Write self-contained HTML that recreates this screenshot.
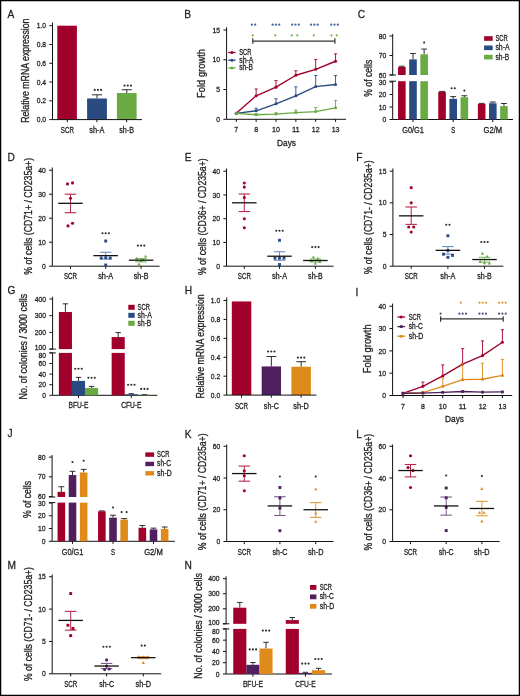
<!DOCTYPE html>
<html><head><meta charset="utf-8"><style>
html,body{margin:0;padding:0;background:#fff;}
body{width:520px;height:696px;overflow:hidden;}
svg{display:block;font-family:"Liberation Sans",sans-serif;}
</style></head><body>
<div style="filter:blur(0.3px)"><svg width="520" height="696" viewBox="0 0 520 696"><g>
<rect x="0" y="0" width="520" height="696" fill="#fff"/>
<rect x="0.6" y="0.6" width="518.8" height="694.8" fill="none" stroke="#000" stroke-width="1.3"/>
<text transform="translate(7.60,17.90) scale(0.88,1)" font-size="11.6" text-anchor="start" fill="#1e1e1e" stroke="#1e1e1e" stroke-width="0.28">A</text>
<line x1="52.50" y1="22.50" x2="52.50" y2="119.60" stroke="#111111" stroke-width="1.0" />
<line x1="49.30" y1="119.60" x2="52.50" y2="119.60" stroke="#111111" stroke-width="1.0" />
<text transform="translate(46.00,122.20)" font-size="7.6" text-anchor="end" fill="#1e1e1e" stroke="#1e1e1e" stroke-width="0.28" textLength="9.33" lengthAdjust="spacingAndGlyphs">0.0</text>
<line x1="49.30" y1="100.82" x2="52.50" y2="100.82" stroke="#111111" stroke-width="1.0" />
<text transform="translate(46.00,103.42)" font-size="7.6" text-anchor="end" fill="#1e1e1e" stroke="#1e1e1e" stroke-width="0.28" textLength="9.33" lengthAdjust="spacingAndGlyphs">0.2</text>
<line x1="49.30" y1="82.04" x2="52.50" y2="82.04" stroke="#111111" stroke-width="1.0" />
<text transform="translate(46.00,84.64)" font-size="7.6" text-anchor="end" fill="#1e1e1e" stroke="#1e1e1e" stroke-width="0.28" textLength="9.33" lengthAdjust="spacingAndGlyphs">0.4</text>
<line x1="49.30" y1="63.26" x2="52.50" y2="63.26" stroke="#111111" stroke-width="1.0" />
<text transform="translate(46.00,65.86)" font-size="7.6" text-anchor="end" fill="#1e1e1e" stroke="#1e1e1e" stroke-width="0.28" textLength="9.33" lengthAdjust="spacingAndGlyphs">0.6</text>
<line x1="49.30" y1="44.48" x2="52.50" y2="44.48" stroke="#111111" stroke-width="1.0" />
<text transform="translate(46.00,47.08)" font-size="7.6" text-anchor="end" fill="#1e1e1e" stroke="#1e1e1e" stroke-width="0.28" textLength="9.33" lengthAdjust="spacingAndGlyphs">0.8</text>
<line x1="49.30" y1="25.70" x2="52.50" y2="25.70" stroke="#111111" stroke-width="1.0" />
<text transform="translate(46.00,28.30)" font-size="7.6" text-anchor="end" fill="#1e1e1e" stroke="#1e1e1e" stroke-width="0.28" textLength="9.33" lengthAdjust="spacingAndGlyphs">1.0</text>
<rect x="57.30" y="25.70" width="19.60" height="93.90" fill="#a1002b"/>
<line x1="97.00" y1="94.81" x2="97.00" y2="98.47" stroke="#2e2e2e" stroke-width="1.0" />
<line x1="91.90" y1="94.81" x2="102.10" y2="94.81" stroke="#2e2e2e" stroke-width="1.0" />
<rect x="87.10" y="98.47" width="19.80" height="21.13" fill="#2a4a82"/>
<line x1="126.75" y1="89.74" x2="126.75" y2="93.03" stroke="#2e2e2e" stroke-width="1.0" />
<line x1="121.65" y1="89.74" x2="131.85" y2="89.74" stroke="#2e2e2e" stroke-width="1.0" />
<rect x="116.90" y="93.03" width="19.70" height="26.57" fill="#69aa42"/>
<circle cx="94.70" cy="89.90" r="1.05" fill="#2a2a2a"/>
<circle cx="97.90" cy="89.90" r="1.05" fill="#2a2a2a"/>
<circle cx="101.10" cy="89.90" r="1.05" fill="#2a2a2a"/>
<circle cx="124.60" cy="85.60" r="1.05" fill="#2a2a2a"/>
<circle cx="127.80" cy="85.60" r="1.05" fill="#2a2a2a"/>
<circle cx="131.00" cy="85.60" r="1.05" fill="#2a2a2a"/>
<line x1="52.50" y1="119.60" x2="142.00" y2="119.60" stroke="#111111" stroke-width="1.0" />
<line x1="67.30" y1="119.60" x2="67.30" y2="122.20" stroke="#111111" stroke-width="1.0" />
<text transform="translate(67.30,132.80)" font-size="8.4" text-anchor="middle" fill="#1e1e1e" stroke="#1e1e1e" stroke-width="0.28" textLength="13.09" lengthAdjust="spacingAndGlyphs">SCR</text>
<line x1="96.90" y1="119.60" x2="96.90" y2="122.20" stroke="#111111" stroke-width="1.0" />
<text transform="translate(96.90,132.80)" font-size="8.4" text-anchor="middle" fill="#1e1e1e" stroke="#1e1e1e" stroke-width="0.28" textLength="15.15" lengthAdjust="spacingAndGlyphs">sh-A</text>
<line x1="126.60" y1="119.60" x2="126.60" y2="122.20" stroke="#111111" stroke-width="1.0" />
<text transform="translate(126.60,132.80)" font-size="8.4" text-anchor="middle" fill="#1e1e1e" stroke="#1e1e1e" stroke-width="0.28" textLength="14.58" lengthAdjust="spacingAndGlyphs">sh-B</text>
<text transform="translate(29.04,70.70) rotate(-90)" font-size="10.0" text-anchor="middle" fill="#1e1e1e" stroke="#1e1e1e" stroke-width="0.3" textLength="104.33" lengthAdjust="spacingAndGlyphs">Relative mRNA expression</text>
<text transform="translate(184.30,17.90) scale(0.88,1)" font-size="11.6" text-anchor="start" fill="#1e1e1e" stroke="#1e1e1e" stroke-width="0.28">B</text>
<line x1="226.60" y1="27.30" x2="226.60" y2="119.30" stroke="#111111" stroke-width="1.0" />
<line x1="223.40" y1="119.30" x2="226.60" y2="119.30" stroke="#111111" stroke-width="1.0" />
<text transform="translate(220.10,121.90)" font-size="7.6" text-anchor="end" fill="#1e1e1e" stroke="#1e1e1e" stroke-width="0.28" textLength="3.77" lengthAdjust="spacingAndGlyphs">0</text>
<line x1="223.40" y1="89.53" x2="226.60" y2="89.53" stroke="#111111" stroke-width="1.0" />
<text transform="translate(220.10,92.13)" font-size="7.6" text-anchor="end" fill="#1e1e1e" stroke="#1e1e1e" stroke-width="0.28" textLength="3.77" lengthAdjust="spacingAndGlyphs">5</text>
<line x1="223.40" y1="59.77" x2="226.60" y2="59.77" stroke="#111111" stroke-width="1.0" />
<text transform="translate(220.10,62.37)" font-size="7.6" text-anchor="end" fill="#1e1e1e" stroke="#1e1e1e" stroke-width="0.28" textLength="7.54" lengthAdjust="spacingAndGlyphs">10</text>
<line x1="223.40" y1="30.00" x2="226.60" y2="30.00" stroke="#111111" stroke-width="1.0" />
<text transform="translate(220.10,32.60)" font-size="7.6" text-anchor="end" fill="#1e1e1e" stroke="#1e1e1e" stroke-width="0.28" textLength="7.54" lengthAdjust="spacingAndGlyphs">15</text>
<line x1="226.60" y1="119.30" x2="346.00" y2="119.30" stroke="#111111" stroke-width="1.0" />
<line x1="236.30" y1="119.30" x2="236.30" y2="121.90" stroke="#111111" stroke-width="1.0" />
<text transform="translate(236.30,132.00)" font-size="7.8999999999999995" text-anchor="middle" fill="#1e1e1e" stroke="#1e1e1e" stroke-width="0.28" textLength="3.90" lengthAdjust="spacingAndGlyphs">7</text>
<line x1="256.15" y1="119.30" x2="256.15" y2="121.90" stroke="#111111" stroke-width="1.0" />
<text transform="translate(256.15,132.00)" font-size="7.8999999999999995" text-anchor="middle" fill="#1e1e1e" stroke="#1e1e1e" stroke-width="0.28" textLength="3.90" lengthAdjust="spacingAndGlyphs">8</text>
<line x1="276.00" y1="119.30" x2="276.00" y2="121.90" stroke="#111111" stroke-width="1.0" />
<text transform="translate(276.00,132.00)" font-size="7.8999999999999995" text-anchor="middle" fill="#1e1e1e" stroke="#1e1e1e" stroke-width="0.28" textLength="7.80" lengthAdjust="spacingAndGlyphs">10</text>
<line x1="295.85" y1="119.30" x2="295.85" y2="121.90" stroke="#111111" stroke-width="1.0" />
<text transform="translate(295.85,132.00)" font-size="7.8999999999999995" text-anchor="middle" fill="#1e1e1e" stroke="#1e1e1e" stroke-width="0.28" textLength="7.80" lengthAdjust="spacingAndGlyphs">11</text>
<line x1="315.70" y1="119.30" x2="315.70" y2="121.90" stroke="#111111" stroke-width="1.0" />
<text transform="translate(315.70,132.00)" font-size="7.8999999999999995" text-anchor="middle" fill="#1e1e1e" stroke="#1e1e1e" stroke-width="0.28" textLength="7.80" lengthAdjust="spacingAndGlyphs">12</text>
<line x1="335.55" y1="119.30" x2="335.55" y2="121.90" stroke="#111111" stroke-width="1.0" />
<text transform="translate(335.55,132.00)" font-size="7.8999999999999995" text-anchor="middle" fill="#1e1e1e" stroke="#1e1e1e" stroke-width="0.28" textLength="7.80" lengthAdjust="spacingAndGlyphs">13</text>
<text transform="translate(286.50,145.60)" font-size="9.0" text-anchor="middle" fill="#1e1e1e" stroke="#1e1e1e" stroke-width="0.28" textLength="18.97" lengthAdjust="spacingAndGlyphs">Days</text>
<line x1="256.15" y1="88.94" x2="256.15" y2="95.78" stroke="#a1002b" stroke-width="0.9" />
<line x1="254.55" y1="88.94" x2="257.75" y2="88.94" stroke="#a1002b" stroke-width="0.9" />
<line x1="276.00" y1="80.60" x2="276.00" y2="87.15" stroke="#a1002b" stroke-width="0.9" />
<line x1="274.40" y1="80.60" x2="277.60" y2="80.60" stroke="#a1002b" stroke-width="0.9" />
<line x1="295.85" y1="70.78" x2="295.85" y2="75.25" stroke="#a1002b" stroke-width="0.9" />
<line x1="294.25" y1="70.78" x2="297.45" y2="70.78" stroke="#a1002b" stroke-width="0.9" />
<line x1="315.70" y1="59.47" x2="315.70" y2="69.29" stroke="#a1002b" stroke-width="0.9" />
<line x1="314.10" y1="59.47" x2="317.30" y2="59.47" stroke="#a1002b" stroke-width="0.9" />
<line x1="335.55" y1="53.81" x2="335.55" y2="61.25" stroke="#a1002b" stroke-width="0.9" />
<line x1="333.95" y1="53.81" x2="337.15" y2="53.81" stroke="#a1002b" stroke-width="0.9" />
<polyline points="236.30,113.35 256.15,95.78 276.00,87.15 295.85,75.25 315.70,69.29 335.55,61.25" fill="none" stroke="#a1002b" stroke-width="1.35" stroke-linejoin="round"/>
<circle cx="236.30" cy="113.35" r="1.55" fill="#a1002b"/>
<circle cx="256.15" cy="95.78" r="1.55" fill="#a1002b"/>
<circle cx="276.00" cy="87.15" r="1.55" fill="#a1002b"/>
<circle cx="295.85" cy="75.25" r="1.55" fill="#a1002b"/>
<circle cx="315.70" cy="69.29" r="1.55" fill="#a1002b"/>
<circle cx="335.55" cy="61.25" r="1.55" fill="#a1002b"/>
<line x1="256.15" y1="108.29" x2="256.15" y2="110.79" stroke="#2a4a82" stroke-width="0.9" />
<line x1="254.55" y1="108.29" x2="257.75" y2="108.29" stroke="#2a4a82" stroke-width="0.9" />
<line x1="276.00" y1="98.76" x2="276.00" y2="103.82" stroke="#2a4a82" stroke-width="0.9" />
<line x1="274.40" y1="98.76" x2="277.60" y2="98.76" stroke="#2a4a82" stroke-width="0.9" />
<line x1="295.85" y1="86.85" x2="295.85" y2="95.78" stroke="#2a4a82" stroke-width="0.9" />
<line x1="294.25" y1="86.85" x2="297.45" y2="86.85" stroke="#2a4a82" stroke-width="0.9" />
<line x1="315.70" y1="75.54" x2="315.70" y2="86.56" stroke="#2a4a82" stroke-width="0.9" />
<line x1="314.10" y1="75.54" x2="317.30" y2="75.54" stroke="#2a4a82" stroke-width="0.9" />
<line x1="335.55" y1="75.54" x2="335.55" y2="84.47" stroke="#2a4a82" stroke-width="0.9" />
<line x1="333.95" y1="75.54" x2="337.15" y2="75.54" stroke="#2a4a82" stroke-width="0.9" />
<polyline points="236.30,113.35 256.15,110.79 276.00,103.82 295.85,95.78 315.70,86.56 335.55,84.47" fill="none" stroke="#2a4a82" stroke-width="1.35" stroke-linejoin="round"/>
<circle cx="236.30" cy="113.35" r="1.55" fill="#2a4a82"/>
<circle cx="256.15" cy="110.79" r="1.55" fill="#2a4a82"/>
<circle cx="276.00" cy="103.82" r="1.55" fill="#2a4a82"/>
<circle cx="295.85" cy="95.78" r="1.55" fill="#2a4a82"/>
<circle cx="315.70" cy="86.56" r="1.55" fill="#2a4a82"/>
<circle cx="335.55" cy="84.47" r="1.55" fill="#2a4a82"/>
<line x1="256.15" y1="113.64" x2="256.15" y2="114.78" stroke="#69aa42" stroke-width="0.9" />
<line x1="254.55" y1="113.64" x2="257.75" y2="113.64" stroke="#69aa42" stroke-width="0.9" />
<line x1="276.00" y1="112.75" x2="276.00" y2="114.06" stroke="#69aa42" stroke-width="0.9" />
<line x1="274.40" y1="112.75" x2="277.60" y2="112.75" stroke="#69aa42" stroke-width="0.9" />
<line x1="295.85" y1="110.07" x2="295.85" y2="112.57" stroke="#69aa42" stroke-width="0.9" />
<line x1="294.25" y1="110.07" x2="297.45" y2="110.07" stroke="#69aa42" stroke-width="0.9" />
<line x1="315.70" y1="107.57" x2="315.70" y2="111.56" stroke="#69aa42" stroke-width="0.9" />
<line x1="314.10" y1="107.57" x2="317.30" y2="107.57" stroke="#69aa42" stroke-width="0.9" />
<line x1="335.55" y1="100.55" x2="335.55" y2="107.81" stroke="#69aa42" stroke-width="0.9" />
<line x1="333.95" y1="100.55" x2="337.15" y2="100.55" stroke="#69aa42" stroke-width="0.9" />
<polyline points="236.30,113.35 256.15,114.78 276.00,114.06 295.85,112.57 315.70,111.56 335.55,107.81" fill="none" stroke="#69aa42" stroke-width="1.35" stroke-linejoin="round"/>
<circle cx="236.30" cy="113.35" r="1.55" fill="#69aa42"/>
<circle cx="256.15" cy="114.78" r="1.55" fill="#69aa42"/>
<circle cx="276.00" cy="114.06" r="1.55" fill="#69aa42"/>
<circle cx="295.85" cy="112.57" r="1.55" fill="#69aa42"/>
<circle cx="315.70" cy="111.56" r="1.55" fill="#69aa42"/>
<circle cx="335.55" cy="107.81" r="1.55" fill="#69aa42"/>
<text transform="translate(205.43,73.46) rotate(-90)" font-size="10.0" text-anchor="middle" fill="#1e1e1e" stroke="#1e1e1e" stroke-width="0.3" textLength="48.89" lengthAdjust="spacingAndGlyphs">Fold growth</text>
<line x1="228.20" y1="52.50" x2="235.60" y2="52.50" stroke="#a1002b" stroke-width="1.3" />
<circle cx="231.90" cy="52.50" r="1.5" fill="#a1002b"/>
<text transform="translate(239.20,55.00)" font-size="8.3" text-anchor="start" fill="#1e1e1e" stroke="#1e1e1e" stroke-width="0.28" textLength="12.28" lengthAdjust="spacingAndGlyphs">SCR</text>
<line x1="228.20" y1="60.20" x2="235.60" y2="60.20" stroke="#2a4a82" stroke-width="1.3" />
<circle cx="231.90" cy="60.20" r="1.5" fill="#2a4a82"/>
<text transform="translate(239.20,62.70)" font-size="8.3" text-anchor="start" fill="#1e1e1e" stroke="#1e1e1e" stroke-width="0.28" textLength="14.21" lengthAdjust="spacingAndGlyphs">sh-A</text>
<line x1="228.20" y1="67.90" x2="235.60" y2="67.90" stroke="#69aa42" stroke-width="1.3" />
<circle cx="231.90" cy="67.90" r="1.5" fill="#69aa42"/>
<text transform="translate(239.20,70.40)" font-size="8.3" text-anchor="start" fill="#1e1e1e" stroke="#1e1e1e" stroke-width="0.28" textLength="13.68" lengthAdjust="spacingAndGlyphs">sh-B</text>
<line x1="252.80" y1="41.10" x2="334.90" y2="41.10" stroke="#333333" stroke-width="1.2" />
<line x1="252.80" y1="38.30" x2="252.80" y2="43.70" stroke="#333333" stroke-width="1.2" />
<line x1="334.90" y1="38.30" x2="334.90" y2="43.70" stroke="#333333" stroke-width="1.2" />
<circle cx="251.85" cy="24.70" r="1.15" fill="#4a66a0"/>
<circle cx="255.15" cy="24.70" r="1.15" fill="#4a66a0"/>
<circle cx="272.60" cy="24.70" r="1.15" fill="#4a66a0"/>
<circle cx="275.90" cy="24.70" r="1.15" fill="#4a66a0"/>
<circle cx="279.20" cy="24.70" r="1.15" fill="#4a66a0"/>
<circle cx="292.20" cy="24.70" r="1.15" fill="#4a66a0"/>
<circle cx="295.50" cy="24.70" r="1.15" fill="#4a66a0"/>
<circle cx="298.80" cy="24.70" r="1.15" fill="#4a66a0"/>
<circle cx="311.10" cy="24.70" r="1.15" fill="#4a66a0"/>
<circle cx="314.40" cy="24.70" r="1.15" fill="#4a66a0"/>
<circle cx="317.70" cy="24.70" r="1.15" fill="#4a66a0"/>
<circle cx="331.20" cy="24.70" r="1.15" fill="#4a66a0"/>
<circle cx="334.50" cy="24.70" r="1.15" fill="#4a66a0"/>
<circle cx="337.80" cy="24.70" r="1.15" fill="#4a66a0"/>
<circle cx="252.70" cy="35.40" r="1.1" fill="#72b34e"/>
<circle cx="275.20" cy="35.40" r="1.1" fill="#72b34e"/>
<circle cx="291.70" cy="35.40" r="1.1" fill="#72b34e"/>
<circle cx="297.30" cy="35.40" r="1.1" fill="#72b34e"/>
<circle cx="313.80" cy="35.40" r="1.1" fill="#72b34e"/>
<circle cx="331.50" cy="35.40" r="1.1" fill="#72b34e"/>
<circle cx="336.70" cy="35.40" r="1.1" fill="#72b34e"/>
<text transform="translate(357.80,17.90) scale(0.88,1)" font-size="11.6" text-anchor="start" fill="#1e1e1e" stroke="#1e1e1e" stroke-width="0.28">C</text>
<line x1="392.70" y1="34.00" x2="392.70" y2="75.00" stroke="#111111" stroke-width="1.0" />
<line x1="389.50" y1="75.00" x2="395.90" y2="75.00" stroke="#111111" stroke-width="1.0" />
<line x1="392.70" y1="81.20" x2="392.70" y2="119.50" stroke="#111111" stroke-width="1.0" />
<line x1="389.50" y1="81.20" x2="395.90" y2="81.20" stroke="#111111" stroke-width="1.0" />
<line x1="389.50" y1="75.00" x2="392.70" y2="75.00" stroke="#111111" stroke-width="1.0" />
<text transform="translate(386.20,77.60)" font-size="7.6" text-anchor="end" fill="#1e1e1e" stroke="#1e1e1e" stroke-width="0.28" textLength="7.54" lengthAdjust="spacingAndGlyphs">60</text>
<line x1="389.50" y1="55.50" x2="392.70" y2="55.50" stroke="#111111" stroke-width="1.0" />
<text transform="translate(386.20,58.10)" font-size="7.6" text-anchor="end" fill="#1e1e1e" stroke="#1e1e1e" stroke-width="0.28" textLength="7.54" lengthAdjust="spacingAndGlyphs">70</text>
<line x1="389.50" y1="36.00" x2="392.70" y2="36.00" stroke="#111111" stroke-width="1.0" />
<text transform="translate(386.20,38.60)" font-size="7.6" text-anchor="end" fill="#1e1e1e" stroke="#1e1e1e" stroke-width="0.28" textLength="7.54" lengthAdjust="spacingAndGlyphs">80</text>
<line x1="389.50" y1="119.50" x2="392.70" y2="119.50" stroke="#111111" stroke-width="1.0" />
<text transform="translate(386.20,122.10)" font-size="7.6" text-anchor="end" fill="#1e1e1e" stroke="#1e1e1e" stroke-width="0.28" textLength="3.77" lengthAdjust="spacingAndGlyphs">0</text>
<line x1="389.50" y1="107.00" x2="392.70" y2="107.00" stroke="#111111" stroke-width="1.0" />
<text transform="translate(386.20,109.60)" font-size="7.6" text-anchor="end" fill="#1e1e1e" stroke="#1e1e1e" stroke-width="0.28" textLength="7.54" lengthAdjust="spacingAndGlyphs">10</text>
<line x1="389.50" y1="94.50" x2="392.70" y2="94.50" stroke="#111111" stroke-width="1.0" />
<text transform="translate(386.20,97.10)" font-size="7.6" text-anchor="end" fill="#1e1e1e" stroke="#1e1e1e" stroke-width="0.28" textLength="7.54" lengthAdjust="spacingAndGlyphs">20</text>
<line x1="389.50" y1="82.00" x2="392.70" y2="82.00" stroke="#111111" stroke-width="1.0" />
<text transform="translate(386.20,84.60)" font-size="7.6" text-anchor="end" fill="#1e1e1e" stroke="#1e1e1e" stroke-width="0.28" textLength="7.54" lengthAdjust="spacingAndGlyphs">30</text>
<line x1="392.70" y1="119.50" x2="513.00" y2="119.50" stroke="#111111" stroke-width="1.0" />
<line x1="413.00" y1="119.50" x2="413.00" y2="122.10" stroke="#111111" stroke-width="1.0" />
<text transform="translate(413.00,132.70)" font-size="8.4" text-anchor="middle" fill="#1e1e1e" stroke="#1e1e1e" stroke-width="0.28" textLength="21.55" lengthAdjust="spacingAndGlyphs">G0/G1</text>
<line x1="401.85" y1="66.22" x2="401.85" y2="67.01" stroke="#2e2e2e" stroke-width="1.0" />
<line x1="398.95" y1="66.22" x2="404.75" y2="66.22" stroke="#2e2e2e" stroke-width="1.0" />
<rect x="398.05" y="67.01" width="7.60" height="7.99" fill="#a1002b"/>
<rect x="398.05" y="81.20" width="7.60" height="38.30" fill="#a1002b"/>
<line x1="413.00" y1="53.55" x2="413.00" y2="59.40" stroke="#2e2e2e" stroke-width="1.0" />
<line x1="410.10" y1="53.55" x2="415.90" y2="53.55" stroke="#2e2e2e" stroke-width="1.0" />
<rect x="409.20" y="59.40" width="7.60" height="15.60" fill="#2a4a82"/>
<rect x="409.20" y="81.20" width="7.60" height="38.30" fill="#2a4a82"/>
<line x1="424.15" y1="49.07" x2="424.15" y2="54.33" stroke="#2e2e2e" stroke-width="1.0" />
<line x1="421.25" y1="49.07" x2="427.05" y2="49.07" stroke="#2e2e2e" stroke-width="1.0" />
<rect x="420.35" y="54.33" width="7.60" height="20.67" fill="#69aa42"/>
<rect x="420.35" y="81.20" width="7.60" height="38.30" fill="#69aa42"/>
<circle cx="424.15" cy="42.60" r="1.05" fill="#2a2a2a"/>
<line x1="453.20" y1="119.50" x2="453.20" y2="122.10" stroke="#111111" stroke-width="1.0" />
<text transform="translate(453.20,132.70)" font-size="8.4" text-anchor="middle" fill="#1e1e1e" stroke="#1e1e1e" stroke-width="0.28" textLength="3.99" lengthAdjust="spacingAndGlyphs">S</text>
<line x1="442.05" y1="91.38" x2="442.05" y2="91.88" stroke="#2e2e2e" stroke-width="1.0" />
<line x1="439.15" y1="91.38" x2="444.95" y2="91.38" stroke="#2e2e2e" stroke-width="1.0" />
<rect x="438.25" y="91.88" width="7.60" height="27.62" fill="#a1002b"/>
<line x1="453.20" y1="96.62" x2="453.20" y2="98.88" stroke="#2e2e2e" stroke-width="1.0" />
<line x1="450.30" y1="96.62" x2="456.10" y2="96.62" stroke="#2e2e2e" stroke-width="1.0" />
<rect x="449.40" y="98.88" width="7.60" height="20.62" fill="#2a4a82"/>
<circle cx="451.60" cy="88.20" r="1.05" fill="#2a2a2a"/>
<circle cx="454.80" cy="88.20" r="1.05" fill="#2a2a2a"/>
<line x1="464.35" y1="95.75" x2="464.35" y2="97.25" stroke="#2e2e2e" stroke-width="1.0" />
<line x1="461.45" y1="95.75" x2="467.25" y2="95.75" stroke="#2e2e2e" stroke-width="1.0" />
<rect x="460.55" y="97.25" width="7.60" height="22.25" fill="#69aa42"/>
<circle cx="464.35" cy="90.60" r="1.05" fill="#2a2a2a"/>
<line x1="492.80" y1="119.50" x2="492.80" y2="122.10" stroke="#111111" stroke-width="1.0" />
<text transform="translate(492.80,132.70)" font-size="8.4" text-anchor="middle" fill="#1e1e1e" stroke="#1e1e1e" stroke-width="0.28" textLength="18.68" lengthAdjust="spacingAndGlyphs">G2/M</text>
<line x1="481.65" y1="103.38" x2="481.65" y2="103.88" stroke="#2e2e2e" stroke-width="1.0" />
<line x1="478.75" y1="103.38" x2="484.55" y2="103.38" stroke="#2e2e2e" stroke-width="1.0" />
<rect x="477.85" y="103.88" width="7.60" height="15.62" fill="#a1002b"/>
<line x1="492.80" y1="102.00" x2="492.80" y2="103.25" stroke="#2e2e2e" stroke-width="1.0" />
<line x1="489.90" y1="102.00" x2="495.70" y2="102.00" stroke="#2e2e2e" stroke-width="1.0" />
<rect x="489.00" y="103.25" width="7.60" height="16.25" fill="#2a4a82"/>
<line x1="503.95" y1="103.50" x2="503.95" y2="106.12" stroke="#2e2e2e" stroke-width="1.0" />
<line x1="501.05" y1="103.50" x2="506.85" y2="103.50" stroke="#2e2e2e" stroke-width="1.0" />
<rect x="500.15" y="106.12" width="7.60" height="13.38" fill="#69aa42"/>
<text transform="translate(372.41,78.26) rotate(-90)" font-size="10.0" text-anchor="middle" fill="#1e1e1e" stroke="#1e1e1e" stroke-width="0.3" textLength="36.89" lengthAdjust="spacingAndGlyphs">% of cells</text>
<rect x="484.10" y="36.20" width="8.60" height="4.60" fill="#a1002b"/>
<text transform="translate(495.40,41.10)" font-size="8.3" text-anchor="start" fill="#1e1e1e" stroke="#1e1e1e" stroke-width="0.28" textLength="12.28" lengthAdjust="spacingAndGlyphs">SCR</text>
<rect x="484.10" y="45.50" width="8.60" height="4.60" fill="#2a4a82"/>
<text transform="translate(495.40,50.40)" font-size="8.3" text-anchor="start" fill="#1e1e1e" stroke="#1e1e1e" stroke-width="0.28" textLength="14.21" lengthAdjust="spacingAndGlyphs">sh-A</text>
<rect x="484.10" y="54.80" width="8.60" height="4.60" fill="#69aa42"/>
<text transform="translate(495.40,59.70)" font-size="8.3" text-anchor="start" fill="#1e1e1e" stroke="#1e1e1e" stroke-width="0.28" textLength="13.68" lengthAdjust="spacingAndGlyphs">sh-B</text>
<text transform="translate(7.60,161.30) scale(0.88,1)" font-size="11.6" text-anchor="start" fill="#1e1e1e" stroke="#1e1e1e" stroke-width="0.28">D</text>
<line x1="52.30" y1="167.50" x2="52.30" y2="266.20" stroke="#111111" stroke-width="1.0" />
<line x1="49.10" y1="266.20" x2="52.30" y2="266.20" stroke="#111111" stroke-width="1.0" />
<text transform="translate(45.80,268.80)" font-size="7.6" text-anchor="end" fill="#1e1e1e" stroke="#1e1e1e" stroke-width="0.28" textLength="3.77" lengthAdjust="spacingAndGlyphs">0</text>
<line x1="49.10" y1="242.20" x2="52.30" y2="242.20" stroke="#111111" stroke-width="1.0" />
<text transform="translate(45.80,244.80)" font-size="7.6" text-anchor="end" fill="#1e1e1e" stroke="#1e1e1e" stroke-width="0.28" textLength="7.54" lengthAdjust="spacingAndGlyphs">10</text>
<line x1="49.10" y1="218.20" x2="52.30" y2="218.20" stroke="#111111" stroke-width="1.0" />
<text transform="translate(45.80,220.80)" font-size="7.6" text-anchor="end" fill="#1e1e1e" stroke="#1e1e1e" stroke-width="0.28" textLength="7.54" lengthAdjust="spacingAndGlyphs">20</text>
<line x1="49.10" y1="194.20" x2="52.30" y2="194.20" stroke="#111111" stroke-width="1.0" />
<text transform="translate(45.80,196.80)" font-size="7.6" text-anchor="end" fill="#1e1e1e" stroke="#1e1e1e" stroke-width="0.28" textLength="7.54" lengthAdjust="spacingAndGlyphs">30</text>
<line x1="49.10" y1="170.20" x2="52.30" y2="170.20" stroke="#111111" stroke-width="1.0" />
<text transform="translate(45.80,172.80)" font-size="7.6" text-anchor="end" fill="#1e1e1e" stroke="#1e1e1e" stroke-width="0.28" textLength="7.54" lengthAdjust="spacingAndGlyphs">40</text>
<line x1="52.30" y1="266.20" x2="159.60" y2="266.20" stroke="#111111" stroke-width="1.0" />
<line x1="70.50" y1="266.20" x2="70.50" y2="268.80" stroke="#111111" stroke-width="1.0" />
<text transform="translate(70.50,279.00)" font-size="8.4" text-anchor="middle" fill="#1e1e1e" stroke="#1e1e1e" stroke-width="0.28" textLength="13.09" lengthAdjust="spacingAndGlyphs">SCR</text>
<line x1="105.70" y1="266.20" x2="105.70" y2="268.80" stroke="#111111" stroke-width="1.0" />
<text transform="translate(105.70,279.00)" font-size="8.4" text-anchor="middle" fill="#1e1e1e" stroke="#1e1e1e" stroke-width="0.28" textLength="15.15" lengthAdjust="spacingAndGlyphs">sh-A</text>
<line x1="141.10" y1="266.20" x2="141.10" y2="268.80" stroke="#111111" stroke-width="1.0" />
<text transform="translate(141.10,279.00)" font-size="8.4" text-anchor="middle" fill="#1e1e1e" stroke="#1e1e1e" stroke-width="0.28" textLength="14.58" lengthAdjust="spacingAndGlyphs">sh-B</text>
<line x1="70.50" y1="194.20" x2="70.50" y2="212.68" stroke="#b8274a" stroke-width="1.0" />
<line x1="64.75" y1="194.20" x2="76.25" y2="194.20" stroke="#b8274a" stroke-width="1.1" />
<line x1="64.75" y1="212.68" x2="76.25" y2="212.68" stroke="#b8274a" stroke-width="1.1" />
<circle cx="67.50" cy="183.88" r="1.55" fill="#a1002b"/>
<circle cx="72.50" cy="182.92" r="1.55" fill="#a1002b"/>
<circle cx="70.50" cy="198.28" r="1.55" fill="#a1002b"/>
<circle cx="68.00" cy="225.88" r="1.55" fill="#a1002b"/>
<circle cx="72.50" cy="223.24" r="1.55" fill="#a1002b"/>
<line x1="58.25" y1="203.32" x2="82.75" y2="203.32" stroke="#111" stroke-width="1.3" />
<line x1="105.70" y1="252.28" x2="105.70" y2="259.00" stroke="#6d8dbf" stroke-width="1.0" />
<line x1="99.95" y1="252.28" x2="111.45" y2="252.28" stroke="#6d8dbf" stroke-width="1.1" />
<line x1="99.95" y1="259.00" x2="111.45" y2="259.00" stroke="#6d8dbf" stroke-width="1.1" />
<rect x="104.25" y="239.55" width="2.9" height="2.9" fill="#2a4a82"/>
<rect x="99.75" y="256.59" width="2.9" height="2.9" fill="#2a4a82"/>
<rect x="108.75" y="256.59" width="2.9" height="2.9" fill="#2a4a82"/>
<rect x="104.25" y="256.35" width="2.9" height="2.9" fill="#2a4a82"/>
<rect x="104.25" y="263.55" width="2.9" height="2.9" fill="#2a4a82"/>
<line x1="93.45" y1="255.64" x2="117.95" y2="255.64" stroke="#111" stroke-width="1.3" />
<circle cx="102.50" cy="233.20" r="1.05" fill="#2a2a2a"/>
<circle cx="105.70" cy="233.20" r="1.05" fill="#2a2a2a"/>
<circle cx="108.90" cy="233.20" r="1.05" fill="#2a2a2a"/>
<line x1="141.10" y1="258.52" x2="141.10" y2="261.88" stroke="#7ec25a" stroke-width="1.0" />
<line x1="135.35" y1="258.52" x2="146.85" y2="258.52" stroke="#7ec25a" stroke-width="1.1" />
<line x1="135.35" y1="261.88" x2="146.85" y2="261.88" stroke="#7ec25a" stroke-width="1.1" />
<path d="M136.70,256.79L138.30,259.67L135.10,259.67Z" fill="#69aa42"/>
<path d="M145.60,254.63L147.20,257.51L144.00,257.51Z" fill="#69aa42"/>
<path d="M139.10,262.55L140.70,265.43L137.50,265.43Z" fill="#69aa42"/>
<path d="M143.10,258.23L144.70,261.11L141.50,261.11Z" fill="#69aa42"/>
<path d="M141.10,259.19L142.70,262.07L139.50,262.07Z" fill="#69aa42"/>
<line x1="128.85" y1="260.20" x2="153.35" y2="260.20" stroke="#111" stroke-width="1.3" />
<circle cx="137.90" cy="245.60" r="1.05" fill="#2a2a2a"/>
<circle cx="141.10" cy="245.60" r="1.05" fill="#2a2a2a"/>
<circle cx="144.30" cy="245.60" r="1.05" fill="#2a2a2a"/>
<text transform="translate(31.73,216.33) rotate(-90)" font-size="10.0" text-anchor="middle" fill="#1e1e1e" stroke="#1e1e1e" stroke-width="0.3" textLength="116.77" lengthAdjust="spacingAndGlyphs">% of cells (CD71+ / CD235a+)</text>
<text transform="translate(184.80,161.30) scale(0.88,1)" font-size="11.6" text-anchor="start" fill="#1e1e1e" stroke="#1e1e1e" stroke-width="0.28">E</text>
<line x1="226.50" y1="168.50" x2="226.50" y2="266.20" stroke="#111111" stroke-width="1.0" />
<line x1="223.30" y1="266.20" x2="226.50" y2="266.20" stroke="#111111" stroke-width="1.0" />
<text transform="translate(220.00,268.80)" font-size="7.6" text-anchor="end" fill="#1e1e1e" stroke="#1e1e1e" stroke-width="0.28" textLength="3.77" lengthAdjust="spacingAndGlyphs">0</text>
<line x1="223.30" y1="242.45" x2="226.50" y2="242.45" stroke="#111111" stroke-width="1.0" />
<text transform="translate(220.00,245.05)" font-size="7.6" text-anchor="end" fill="#1e1e1e" stroke="#1e1e1e" stroke-width="0.28" textLength="7.54" lengthAdjust="spacingAndGlyphs">10</text>
<line x1="223.30" y1="218.70" x2="226.50" y2="218.70" stroke="#111111" stroke-width="1.0" />
<text transform="translate(220.00,221.30)" font-size="7.6" text-anchor="end" fill="#1e1e1e" stroke="#1e1e1e" stroke-width="0.28" textLength="7.54" lengthAdjust="spacingAndGlyphs">20</text>
<line x1="223.30" y1="194.95" x2="226.50" y2="194.95" stroke="#111111" stroke-width="1.0" />
<text transform="translate(220.00,197.55)" font-size="7.6" text-anchor="end" fill="#1e1e1e" stroke="#1e1e1e" stroke-width="0.28" textLength="7.54" lengthAdjust="spacingAndGlyphs">30</text>
<line x1="223.30" y1="171.20" x2="226.50" y2="171.20" stroke="#111111" stroke-width="1.0" />
<text transform="translate(220.00,173.80)" font-size="7.6" text-anchor="end" fill="#1e1e1e" stroke="#1e1e1e" stroke-width="0.28" textLength="7.54" lengthAdjust="spacingAndGlyphs">40</text>
<line x1="226.50" y1="266.20" x2="333.60" y2="266.20" stroke="#111111" stroke-width="1.0" />
<line x1="244.30" y1="266.20" x2="244.30" y2="268.80" stroke="#111111" stroke-width="1.0" />
<text transform="translate(244.30,279.00)" font-size="8.4" text-anchor="middle" fill="#1e1e1e" stroke="#1e1e1e" stroke-width="0.28" textLength="13.09" lengthAdjust="spacingAndGlyphs">SCR</text>
<line x1="279.50" y1="266.20" x2="279.50" y2="268.80" stroke="#111111" stroke-width="1.0" />
<text transform="translate(279.50,279.00)" font-size="8.4" text-anchor="middle" fill="#1e1e1e" stroke="#1e1e1e" stroke-width="0.28" textLength="15.15" lengthAdjust="spacingAndGlyphs">sh-A</text>
<line x1="315.40" y1="266.20" x2="315.40" y2="268.80" stroke="#111111" stroke-width="1.0" />
<text transform="translate(315.40,279.00)" font-size="8.4" text-anchor="middle" fill="#1e1e1e" stroke="#1e1e1e" stroke-width="0.28" textLength="14.58" lengthAdjust="spacingAndGlyphs">sh-B</text>
<line x1="244.30" y1="194.00" x2="244.30" y2="211.57" stroke="#b8274a" stroke-width="1.0" />
<line x1="238.55" y1="194.00" x2="250.05" y2="194.00" stroke="#b8274a" stroke-width="1.1" />
<line x1="238.55" y1="211.57" x2="250.05" y2="211.57" stroke="#b8274a" stroke-width="1.1" />
<circle cx="244.30" cy="183.07" r="1.55" fill="#a1002b"/>
<circle cx="244.30" cy="187.11" r="1.55" fill="#a1002b"/>
<circle cx="244.30" cy="197.56" r="1.55" fill="#a1002b"/>
<circle cx="244.30" cy="218.70" r="1.55" fill="#a1002b"/>
<circle cx="244.30" cy="227.72" r="1.55" fill="#a1002b"/>
<line x1="232.05" y1="202.79" x2="256.55" y2="202.79" stroke="#111" stroke-width="1.3" />
<line x1="279.50" y1="251.71" x2="279.50" y2="260.26" stroke="#6d8dbf" stroke-width="1.0" />
<line x1="273.75" y1="251.71" x2="285.25" y2="251.71" stroke="#6d8dbf" stroke-width="1.1" />
<line x1="273.75" y1="260.26" x2="285.25" y2="260.26" stroke="#6d8dbf" stroke-width="1.1" />
<rect x="278.05" y="238.86" width="2.9" height="2.9" fill="#2a4a82"/>
<rect x="273.55" y="256.68" width="2.9" height="2.9" fill="#2a4a82"/>
<rect x="278.05" y="256.68" width="2.9" height="2.9" fill="#2a4a82"/>
<rect x="282.55" y="256.68" width="2.9" height="2.9" fill="#2a4a82"/>
<rect x="278.05" y="263.09" width="2.9" height="2.9" fill="#2a4a82"/>
<line x1="267.25" y1="256.22" x2="291.75" y2="256.22" stroke="#111" stroke-width="1.3" />
<circle cx="276.30" cy="230.80" r="1.05" fill="#2a2a2a"/>
<circle cx="279.50" cy="230.80" r="1.05" fill="#2a2a2a"/>
<circle cx="282.70" cy="230.80" r="1.05" fill="#2a2a2a"/>
<line x1="315.40" y1="259.07" x2="315.40" y2="261.93" stroke="#7ec25a" stroke-width="1.0" />
<line x1="309.65" y1="259.07" x2="321.15" y2="259.07" stroke="#7ec25a" stroke-width="1.1" />
<line x1="309.65" y1="261.93" x2="321.15" y2="261.93" stroke="#7ec25a" stroke-width="1.1" />
<path d="M313.40,255.45L315.00,258.33L311.80,258.33Z" fill="#69aa42"/>
<path d="M317.90,256.63L319.50,259.51L316.30,259.51Z" fill="#69aa42"/>
<path d="M311.40,259.01L313.00,261.89L309.80,261.89Z" fill="#69aa42"/>
<path d="M319.90,260.20L321.50,263.08L318.30,263.08Z" fill="#69aa42"/>
<path d="M315.40,261.62L317.00,264.50L313.80,264.50Z" fill="#69aa42"/>
<line x1="303.15" y1="260.50" x2="327.65" y2="260.50" stroke="#111" stroke-width="1.3" />
<circle cx="312.20" cy="247.10" r="1.05" fill="#2a2a2a"/>
<circle cx="315.40" cy="247.10" r="1.05" fill="#2a2a2a"/>
<circle cx="318.60" cy="247.10" r="1.05" fill="#2a2a2a"/>
<text transform="translate(206.13,216.73) rotate(-90)" font-size="10.0" text-anchor="middle" fill="#1e1e1e" stroke="#1e1e1e" stroke-width="0.3" textLength="116.77" lengthAdjust="spacingAndGlyphs">% of cells (CD36+ / CD235a+)</text>
<text transform="translate(356.30,161.30) scale(0.88,1)" font-size="11.6" text-anchor="start" fill="#1e1e1e" stroke="#1e1e1e" stroke-width="0.28">F</text>
<line x1="392.90" y1="168.50" x2="392.90" y2="266.20" stroke="#111111" stroke-width="1.0" />
<line x1="389.70" y1="266.20" x2="392.90" y2="266.20" stroke="#111111" stroke-width="1.0" />
<text transform="translate(386.40,268.80)" font-size="7.6" text-anchor="end" fill="#1e1e1e" stroke="#1e1e1e" stroke-width="0.28" textLength="3.77" lengthAdjust="spacingAndGlyphs">0</text>
<line x1="389.70" y1="234.53" x2="392.90" y2="234.53" stroke="#111111" stroke-width="1.0" />
<text transform="translate(386.40,237.13)" font-size="7.6" text-anchor="end" fill="#1e1e1e" stroke="#1e1e1e" stroke-width="0.28" textLength="3.77" lengthAdjust="spacingAndGlyphs">5</text>
<line x1="389.70" y1="202.87" x2="392.90" y2="202.87" stroke="#111111" stroke-width="1.0" />
<text transform="translate(386.40,205.47)" font-size="7.6" text-anchor="end" fill="#1e1e1e" stroke="#1e1e1e" stroke-width="0.28" textLength="7.54" lengthAdjust="spacingAndGlyphs">10</text>
<line x1="389.70" y1="171.20" x2="392.90" y2="171.20" stroke="#111111" stroke-width="1.0" />
<text transform="translate(386.40,173.80)" font-size="7.6" text-anchor="end" fill="#1e1e1e" stroke="#1e1e1e" stroke-width="0.28" textLength="7.54" lengthAdjust="spacingAndGlyphs">15</text>
<line x1="392.90" y1="266.20" x2="503.30" y2="266.20" stroke="#111111" stroke-width="1.0" />
<line x1="411.20" y1="266.20" x2="411.20" y2="268.80" stroke="#111111" stroke-width="1.0" />
<text transform="translate(411.20,279.00)" font-size="8.4" text-anchor="middle" fill="#1e1e1e" stroke="#1e1e1e" stroke-width="0.28" textLength="13.09" lengthAdjust="spacingAndGlyphs">SCR</text>
<line x1="447.90" y1="266.20" x2="447.90" y2="268.80" stroke="#111111" stroke-width="1.0" />
<text transform="translate(447.90,279.00)" font-size="8.4" text-anchor="middle" fill="#1e1e1e" stroke="#1e1e1e" stroke-width="0.28" textLength="15.15" lengthAdjust="spacingAndGlyphs">sh-A</text>
<line x1="484.50" y1="266.20" x2="484.50" y2="268.80" stroke="#111111" stroke-width="1.0" />
<text transform="translate(484.50,279.00)" font-size="8.4" text-anchor="middle" fill="#1e1e1e" stroke="#1e1e1e" stroke-width="0.28" textLength="14.58" lengthAdjust="spacingAndGlyphs">sh-B</text>
<line x1="411.20" y1="206.98" x2="411.20" y2="224.40" stroke="#b8274a" stroke-width="1.0" />
<line x1="405.45" y1="206.98" x2="416.95" y2="206.98" stroke="#b8274a" stroke-width="1.1" />
<line x1="405.45" y1="224.40" x2="416.95" y2="224.40" stroke="#b8274a" stroke-width="1.1" />
<circle cx="411.20" cy="187.67" r="1.55" fill="#a1002b"/>
<circle cx="411.20" cy="202.87" r="1.55" fill="#a1002b"/>
<circle cx="408.70" cy="226.93" r="1.55" fill="#a1002b"/>
<circle cx="413.70" cy="226.93" r="1.55" fill="#a1002b"/>
<circle cx="411.20" cy="232.00" r="1.55" fill="#a1002b"/>
<line x1="398.95" y1="215.85" x2="423.45" y2="215.85" stroke="#111" stroke-width="1.3" />
<line x1="447.90" y1="246.57" x2="447.90" y2="254.17" stroke="#6d8dbf" stroke-width="1.0" />
<line x1="442.15" y1="246.57" x2="453.65" y2="246.57" stroke="#6d8dbf" stroke-width="1.1" />
<line x1="442.15" y1="254.17" x2="453.65" y2="254.17" stroke="#6d8dbf" stroke-width="1.1" />
<rect x="446.45" y="234.35" width="2.9" height="2.9" fill="#2a4a82"/>
<rect x="442.05" y="252.72" width="2.9" height="2.9" fill="#2a4a82"/>
<rect x="451.05" y="253.98" width="2.9" height="2.9" fill="#2a4a82"/>
<rect x="446.45" y="255.88" width="2.9" height="2.9" fill="#2a4a82"/>
<rect x="446.45" y="248.92" width="2.9" height="2.9" fill="#2a4a82"/>
<line x1="435.65" y1="250.37" x2="460.15" y2="250.37" stroke="#111" stroke-width="1.3" />
<circle cx="446.30" cy="224.80" r="1.05" fill="#2a2a2a"/>
<circle cx="449.50" cy="224.80" r="1.05" fill="#2a2a2a"/>
<line x1="484.50" y1="257.33" x2="484.50" y2="262.08" stroke="#7ec25a" stroke-width="1.0" />
<line x1="478.75" y1="257.33" x2="490.25" y2="257.33" stroke="#7ec25a" stroke-width="1.1" />
<line x1="478.75" y1="262.08" x2="490.25" y2="262.08" stroke="#7ec25a" stroke-width="1.1" />
<path d="M482.50,251.81L484.10,254.69L480.90,254.69Z" fill="#69aa42"/>
<path d="M487.10,254.66L488.70,257.54L485.50,257.54Z" fill="#69aa42"/>
<path d="M480.20,259.91L481.80,262.79L478.60,262.79Z" fill="#69aa42"/>
<path d="M489.40,261.62L491.00,264.50L487.80,264.50Z" fill="#69aa42"/>
<path d="M484.50,261.31L486.10,264.19L482.90,264.19Z" fill="#69aa42"/>
<line x1="472.25" y1="259.55" x2="496.75" y2="259.55" stroke="#111" stroke-width="1.3" />
<circle cx="481.30" cy="242.00" r="1.05" fill="#2a2a2a"/>
<circle cx="484.50" cy="242.00" r="1.05" fill="#2a2a2a"/>
<circle cx="487.70" cy="242.00" r="1.05" fill="#2a2a2a"/>
<text transform="translate(372.33,217.36) rotate(-90)" font-size="10.0" text-anchor="middle" fill="#1e1e1e" stroke="#1e1e1e" stroke-width="0.3" textLength="113.99" lengthAdjust="spacingAndGlyphs">% of cells (CD71- / CD235a+)</text>
<text transform="translate(7.60,294.30) scale(0.88,1)" font-size="11.6" text-anchor="start" fill="#1e1e1e" stroke="#1e1e1e" stroke-width="0.28">G</text>
<line x1="52.60" y1="296.80" x2="52.60" y2="349.10" stroke="#111111" stroke-width="1.0" />
<line x1="49.40" y1="349.10" x2="55.80" y2="349.10" stroke="#111111" stroke-width="1.0" />
<line x1="52.60" y1="352.90" x2="52.60" y2="395.30" stroke="#111111" stroke-width="1.0" />
<line x1="49.40" y1="352.90" x2="55.80" y2="352.90" stroke="#111111" stroke-width="1.0" />
<line x1="49.40" y1="349.10" x2="52.60" y2="349.10" stroke="#111111" stroke-width="1.0" />
<text transform="translate(46.10,350.30)" font-size="7.6" text-anchor="end" fill="#1e1e1e" stroke="#1e1e1e" stroke-width="0.28" textLength="11.31" lengthAdjust="spacingAndGlyphs">100</text>
<line x1="49.40" y1="332.40" x2="52.60" y2="332.40" stroke="#111111" stroke-width="1.0" />
<text transform="translate(46.10,335.00)" font-size="7.6" text-anchor="end" fill="#1e1e1e" stroke="#1e1e1e" stroke-width="0.28" textLength="11.31" lengthAdjust="spacingAndGlyphs">200</text>
<line x1="49.40" y1="315.70" x2="52.60" y2="315.70" stroke="#111111" stroke-width="1.0" />
<text transform="translate(46.10,318.30)" font-size="7.6" text-anchor="end" fill="#1e1e1e" stroke="#1e1e1e" stroke-width="0.28" textLength="11.31" lengthAdjust="spacingAndGlyphs">300</text>
<line x1="49.40" y1="299.00" x2="52.60" y2="299.00" stroke="#111111" stroke-width="1.0" />
<text transform="translate(46.10,301.60)" font-size="7.6" text-anchor="end" fill="#1e1e1e" stroke="#1e1e1e" stroke-width="0.28" textLength="11.31" lengthAdjust="spacingAndGlyphs">400</text>
<line x1="49.40" y1="395.30" x2="52.60" y2="395.30" stroke="#111111" stroke-width="1.0" />
<text transform="translate(46.10,397.90)" font-size="7.6" text-anchor="end" fill="#1e1e1e" stroke="#1e1e1e" stroke-width="0.28" textLength="3.77" lengthAdjust="spacingAndGlyphs">0</text>
<line x1="49.40" y1="384.70" x2="52.60" y2="384.70" stroke="#111111" stroke-width="1.0" />
<text transform="translate(46.10,387.30)" font-size="7.6" text-anchor="end" fill="#1e1e1e" stroke="#1e1e1e" stroke-width="0.28" textLength="7.54" lengthAdjust="spacingAndGlyphs">20</text>
<line x1="49.40" y1="374.10" x2="52.60" y2="374.10" stroke="#111111" stroke-width="1.0" />
<text transform="translate(46.10,376.70)" font-size="7.6" text-anchor="end" fill="#1e1e1e" stroke="#1e1e1e" stroke-width="0.28" textLength="7.54" lengthAdjust="spacingAndGlyphs">40</text>
<line x1="49.40" y1="363.50" x2="52.60" y2="363.50" stroke="#111111" stroke-width="1.0" />
<text transform="translate(46.10,366.10)" font-size="7.6" text-anchor="end" fill="#1e1e1e" stroke="#1e1e1e" stroke-width="0.28" textLength="7.54" lengthAdjust="spacingAndGlyphs">60</text>
<line x1="49.40" y1="352.90" x2="52.60" y2="352.90" stroke="#111111" stroke-width="1.0" />
<text transform="translate(46.10,357.60)" font-size="7.6" text-anchor="end" fill="#1e1e1e" stroke="#1e1e1e" stroke-width="0.28" textLength="7.54" lengthAdjust="spacingAndGlyphs">80</text>
<line x1="52.60" y1="395.30" x2="157.40" y2="395.30" stroke="#111111" stroke-width="1.0" />
<line x1="78.50" y1="395.30" x2="78.50" y2="397.90" stroke="#111111" stroke-width="1.0" />
<text transform="translate(78.50,408.30)" font-size="8.4" text-anchor="middle" fill="#1e1e1e" stroke="#1e1e1e" stroke-width="0.28" textLength="20.05" lengthAdjust="spacingAndGlyphs">BFU-E</text>
<line x1="65.40" y1="303.84" x2="65.40" y2="312.03" stroke="#2e2e2e" stroke-width="1.0" />
<line x1="62.70" y1="303.84" x2="68.10" y2="303.84" stroke="#2e2e2e" stroke-width="1.0" />
<rect x="58.85" y="312.03" width="13.10" height="37.07" fill="#a1002b"/>
<rect x="58.85" y="352.90" width="13.10" height="42.40" fill="#a1002b"/>
<line x1="78.50" y1="377.39" x2="78.50" y2="380.88" stroke="#2e2e2e" stroke-width="1.0" />
<line x1="75.80" y1="377.39" x2="81.20" y2="377.39" stroke="#2e2e2e" stroke-width="1.0" />
<rect x="71.95" y="380.88" width="13.10" height="14.42" fill="#2a4a82"/>
<circle cx="75.30" cy="368.70" r="1.05" fill="#2a2a2a"/>
<circle cx="78.50" cy="368.70" r="1.05" fill="#2a2a2a"/>
<circle cx="81.70" cy="368.70" r="1.05" fill="#2a2a2a"/>
<line x1="91.60" y1="386.40" x2="91.60" y2="387.99" stroke="#2e2e2e" stroke-width="1.0" />
<line x1="88.90" y1="386.40" x2="94.30" y2="386.40" stroke="#2e2e2e" stroke-width="1.0" />
<rect x="85.05" y="387.99" width="13.10" height="7.31" fill="#69aa42"/>
<circle cx="88.40" cy="377.70" r="1.05" fill="#2a2a2a"/>
<circle cx="91.60" cy="377.70" r="1.05" fill="#2a2a2a"/>
<circle cx="94.80" cy="377.70" r="1.05" fill="#2a2a2a"/>
<line x1="131.30" y1="395.30" x2="131.30" y2="397.90" stroke="#111111" stroke-width="1.0" />
<text transform="translate(131.30,408.30)" font-size="8.4" text-anchor="middle" fill="#1e1e1e" stroke="#1e1e1e" stroke-width="0.28" textLength="20.36" lengthAdjust="spacingAndGlyphs">CFU-E</text>
<line x1="118.20" y1="332.57" x2="118.20" y2="337.08" stroke="#2e2e2e" stroke-width="1.0" />
<line x1="115.50" y1="332.57" x2="120.90" y2="332.57" stroke="#2e2e2e" stroke-width="1.0" />
<rect x="111.65" y="337.08" width="13.10" height="12.02" fill="#a1002b"/>
<rect x="111.65" y="352.90" width="13.10" height="42.40" fill="#a1002b"/>
<line x1="131.30" y1="393.71" x2="131.30" y2="394.24" stroke="#2e2e2e" stroke-width="1.0" />
<line x1="128.60" y1="393.71" x2="134.00" y2="393.71" stroke="#2e2e2e" stroke-width="1.0" />
<rect x="124.75" y="394.24" width="13.10" height="1.06" fill="#2a4a82"/>
<circle cx="128.10" cy="384.70" r="1.05" fill="#2a2a2a"/>
<circle cx="131.30" cy="384.70" r="1.05" fill="#2a2a2a"/>
<circle cx="134.50" cy="384.70" r="1.05" fill="#2a2a2a"/>
<line x1="144.40" y1="394.66" x2="144.40" y2="394.88" stroke="#2e2e2e" stroke-width="1.0" />
<line x1="141.70" y1="394.66" x2="147.10" y2="394.66" stroke="#2e2e2e" stroke-width="1.0" />
<rect x="137.85" y="394.88" width="13.10" height="0.42" fill="#69aa42"/>
<circle cx="141.20" cy="388.90" r="1.05" fill="#2a2a2a"/>
<circle cx="144.40" cy="388.90" r="1.05" fill="#2a2a2a"/>
<circle cx="147.60" cy="388.90" r="1.05" fill="#2a2a2a"/>
<text transform="translate(26.51,346.63) rotate(-90)" font-size="10.0" text-anchor="middle" fill="#1e1e1e" stroke="#1e1e1e" stroke-width="0.3" textLength="105.57" lengthAdjust="spacingAndGlyphs">No. of colonies / 3000 cells</text>
<rect x="128.30" y="304.80" width="6.40" height="5.00" fill="#a1002b"/>
<text transform="translate(137.60,309.80)" font-size="8.3" text-anchor="start" fill="#1e1e1e" stroke="#1e1e1e" stroke-width="0.28" textLength="12.28" lengthAdjust="spacingAndGlyphs">SCR</text>
<rect x="128.30" y="312.80" width="6.40" height="5.00" fill="#2a4a82"/>
<text transform="translate(137.60,317.80)" font-size="8.3" text-anchor="start" fill="#1e1e1e" stroke="#1e1e1e" stroke-width="0.28" textLength="14.21" lengthAdjust="spacingAndGlyphs">sh-A</text>
<rect x="128.30" y="320.80" width="6.40" height="5.00" fill="#69aa42"/>
<text transform="translate(137.60,325.80)" font-size="8.3" text-anchor="start" fill="#1e1e1e" stroke="#1e1e1e" stroke-width="0.28" textLength="13.68" lengthAdjust="spacingAndGlyphs">sh-B</text>
<text transform="translate(184.80,293.70) scale(0.88,1)" font-size="11.6" text-anchor="start" fill="#1e1e1e" stroke="#1e1e1e" stroke-width="0.28">H</text>
<line x1="226.70" y1="297.50" x2="226.70" y2="395.10" stroke="#111111" stroke-width="1.0" />
<line x1="223.50" y1="395.10" x2="226.70" y2="395.10" stroke="#111111" stroke-width="1.0" />
<text transform="translate(220.20,397.70)" font-size="7.6" text-anchor="end" fill="#1e1e1e" stroke="#1e1e1e" stroke-width="0.28" textLength="9.33" lengthAdjust="spacingAndGlyphs">0.0</text>
<line x1="223.50" y1="376.18" x2="226.70" y2="376.18" stroke="#111111" stroke-width="1.0" />
<text transform="translate(220.20,378.78)" font-size="7.6" text-anchor="end" fill="#1e1e1e" stroke="#1e1e1e" stroke-width="0.28" textLength="9.33" lengthAdjust="spacingAndGlyphs">0.2</text>
<line x1="223.50" y1="357.26" x2="226.70" y2="357.26" stroke="#111111" stroke-width="1.0" />
<text transform="translate(220.20,359.86)" font-size="7.6" text-anchor="end" fill="#1e1e1e" stroke="#1e1e1e" stroke-width="0.28" textLength="9.33" lengthAdjust="spacingAndGlyphs">0.4</text>
<line x1="223.50" y1="338.34" x2="226.70" y2="338.34" stroke="#111111" stroke-width="1.0" />
<text transform="translate(220.20,340.94)" font-size="7.6" text-anchor="end" fill="#1e1e1e" stroke="#1e1e1e" stroke-width="0.28" textLength="9.33" lengthAdjust="spacingAndGlyphs">0.6</text>
<line x1="223.50" y1="319.42" x2="226.70" y2="319.42" stroke="#111111" stroke-width="1.0" />
<text transform="translate(220.20,322.02)" font-size="7.6" text-anchor="end" fill="#1e1e1e" stroke="#1e1e1e" stroke-width="0.28" textLength="9.33" lengthAdjust="spacingAndGlyphs">0.8</text>
<line x1="223.50" y1="300.50" x2="226.70" y2="300.50" stroke="#111111" stroke-width="1.0" />
<text transform="translate(220.20,303.10)" font-size="7.6" text-anchor="end" fill="#1e1e1e" stroke="#1e1e1e" stroke-width="0.28" textLength="9.33" lengthAdjust="spacingAndGlyphs">1.0</text>
<rect x="231.80" y="301.45" width="19.50" height="93.65" fill="#a1002b"/>
<line x1="271.35" y1="356.50" x2="271.35" y2="366.44" stroke="#2e2e2e" stroke-width="1.0" />
<line x1="266.45" y1="356.50" x2="276.25" y2="356.50" stroke="#2e2e2e" stroke-width="1.0" />
<rect x="261.70" y="366.44" width="19.30" height="28.66" fill="#4f1f5e"/>
<line x1="301.15" y1="361.71" x2="301.15" y2="366.72" stroke="#2e2e2e" stroke-width="1.0" />
<line x1="296.25" y1="361.71" x2="306.05" y2="361.71" stroke="#2e2e2e" stroke-width="1.0" />
<rect x="291.40" y="366.72" width="19.50" height="28.38" fill="#de8b1c"/>
<circle cx="268.10" cy="351.50" r="1.05" fill="#2a2a2a"/>
<circle cx="271.30" cy="351.50" r="1.05" fill="#2a2a2a"/>
<circle cx="274.50" cy="351.50" r="1.05" fill="#2a2a2a"/>
<circle cx="297.90" cy="357.60" r="1.05" fill="#2a2a2a"/>
<circle cx="301.10" cy="357.60" r="1.05" fill="#2a2a2a"/>
<circle cx="304.30" cy="357.60" r="1.05" fill="#2a2a2a"/>
<line x1="226.70" y1="395.10" x2="316.40" y2="395.10" stroke="#111111" stroke-width="1.0" />
<line x1="241.50" y1="395.10" x2="241.50" y2="397.70" stroke="#111111" stroke-width="1.0" />
<text transform="translate(241.50,408.60)" font-size="8.4" text-anchor="middle" fill="#1e1e1e" stroke="#1e1e1e" stroke-width="0.28" textLength="13.09" lengthAdjust="spacingAndGlyphs">SCR</text>
<line x1="271.30" y1="395.10" x2="271.30" y2="397.70" stroke="#111111" stroke-width="1.0" />
<text transform="translate(271.30,408.60)" font-size="8.4" text-anchor="middle" fill="#1e1e1e" stroke="#1e1e1e" stroke-width="0.28" textLength="14.89" lengthAdjust="spacingAndGlyphs">sh-C</text>
<line x1="301.10" y1="395.10" x2="301.10" y2="397.70" stroke="#111111" stroke-width="1.0" />
<text transform="translate(301.10,408.60)" font-size="8.4" text-anchor="middle" fill="#1e1e1e" stroke="#1e1e1e" stroke-width="0.28" textLength="15.58" lengthAdjust="spacingAndGlyphs">sh-D</text>
<text transform="translate(203.81,346.46) rotate(-90)" font-size="10.0" text-anchor="middle" fill="#1e1e1e" stroke="#1e1e1e" stroke-width="0.3" textLength="104.33" lengthAdjust="spacingAndGlyphs">Relative mRNA expression</text>
<text transform="translate(355.60,295.90) scale(0.88,1)" font-size="11.6" text-anchor="start" fill="#1e1e1e" stroke="#1e1e1e" stroke-width="0.28">I</text>
<line x1="392.60" y1="303.60" x2="392.60" y2="395.50" stroke="#111111" stroke-width="1.0" />
<line x1="389.40" y1="395.50" x2="392.60" y2="395.50" stroke="#111111" stroke-width="1.0" />
<text transform="translate(386.10,398.10)" font-size="7.6" text-anchor="end" fill="#1e1e1e" stroke="#1e1e1e" stroke-width="0.28" textLength="3.77" lengthAdjust="spacingAndGlyphs">0</text>
<line x1="389.40" y1="373.20" x2="392.60" y2="373.20" stroke="#111111" stroke-width="1.0" />
<text transform="translate(386.10,375.80)" font-size="7.6" text-anchor="end" fill="#1e1e1e" stroke="#1e1e1e" stroke-width="0.28" textLength="7.54" lengthAdjust="spacingAndGlyphs">10</text>
<line x1="389.40" y1="350.90" x2="392.60" y2="350.90" stroke="#111111" stroke-width="1.0" />
<text transform="translate(386.10,353.50)" font-size="7.6" text-anchor="end" fill="#1e1e1e" stroke="#1e1e1e" stroke-width="0.28" textLength="7.54" lengthAdjust="spacingAndGlyphs">20</text>
<line x1="389.40" y1="328.60" x2="392.60" y2="328.60" stroke="#111111" stroke-width="1.0" />
<text transform="translate(386.10,331.20)" font-size="7.6" text-anchor="end" fill="#1e1e1e" stroke="#1e1e1e" stroke-width="0.28" textLength="7.54" lengthAdjust="spacingAndGlyphs">30</text>
<line x1="389.40" y1="306.30" x2="392.60" y2="306.30" stroke="#111111" stroke-width="1.0" />
<text transform="translate(386.10,308.90)" font-size="7.6" text-anchor="end" fill="#1e1e1e" stroke="#1e1e1e" stroke-width="0.28" textLength="7.54" lengthAdjust="spacingAndGlyphs">40</text>
<line x1="392.60" y1="395.50" x2="512.20" y2="395.50" stroke="#111111" stroke-width="1.0" />
<line x1="403.00" y1="395.50" x2="403.00" y2="398.10" stroke="#111111" stroke-width="1.0" />
<text transform="translate(403.00,408.50)" font-size="7.8999999999999995" text-anchor="middle" fill="#1e1e1e" stroke="#1e1e1e" stroke-width="0.28" textLength="3.90" lengthAdjust="spacingAndGlyphs">7</text>
<line x1="422.88" y1="395.50" x2="422.88" y2="398.10" stroke="#111111" stroke-width="1.0" />
<text transform="translate(422.88,408.50)" font-size="7.8999999999999995" text-anchor="middle" fill="#1e1e1e" stroke="#1e1e1e" stroke-width="0.28" textLength="3.90" lengthAdjust="spacingAndGlyphs">8</text>
<line x1="442.76" y1="395.50" x2="442.76" y2="398.10" stroke="#111111" stroke-width="1.0" />
<text transform="translate(442.76,408.50)" font-size="7.8999999999999995" text-anchor="middle" fill="#1e1e1e" stroke="#1e1e1e" stroke-width="0.28" textLength="7.80" lengthAdjust="spacingAndGlyphs">10</text>
<line x1="462.64" y1="395.50" x2="462.64" y2="398.10" stroke="#111111" stroke-width="1.0" />
<text transform="translate(462.64,408.50)" font-size="7.8999999999999995" text-anchor="middle" fill="#1e1e1e" stroke="#1e1e1e" stroke-width="0.28" textLength="7.80" lengthAdjust="spacingAndGlyphs">11</text>
<line x1="482.52" y1="395.50" x2="482.52" y2="398.10" stroke="#111111" stroke-width="1.0" />
<text transform="translate(482.52,408.50)" font-size="7.8999999999999995" text-anchor="middle" fill="#1e1e1e" stroke="#1e1e1e" stroke-width="0.28" textLength="7.80" lengthAdjust="spacingAndGlyphs">12</text>
<line x1="502.40" y1="395.50" x2="502.40" y2="398.10" stroke="#111111" stroke-width="1.0" />
<text transform="translate(502.40,408.50)" font-size="7.8999999999999995" text-anchor="middle" fill="#1e1e1e" stroke="#1e1e1e" stroke-width="0.28" textLength="7.80" lengthAdjust="spacingAndGlyphs">13</text>
<text transform="translate(454.50,421.50)" font-size="9.0" text-anchor="middle" fill="#1e1e1e" stroke="#1e1e1e" stroke-width="0.28" textLength="18.97" lengthAdjust="spacingAndGlyphs">Days</text>
<line x1="422.88" y1="382.12" x2="422.88" y2="386.36" stroke="#a1002b" stroke-width="0.9" />
<line x1="421.28" y1="382.12" x2="424.48" y2="382.12" stroke="#a1002b" stroke-width="0.9" />
<line x1="442.76" y1="364.95" x2="442.76" y2="375.88" stroke="#a1002b" stroke-width="0.9" />
<line x1="441.16" y1="364.95" x2="444.36" y2="364.95" stroke="#a1002b" stroke-width="0.9" />
<line x1="462.64" y1="348.67" x2="462.64" y2="364.06" stroke="#a1002b" stroke-width="0.9" />
<line x1="461.04" y1="348.67" x2="464.24" y2="348.67" stroke="#a1002b" stroke-width="0.9" />
<line x1="482.52" y1="340.87" x2="482.52" y2="355.58" stroke="#a1002b" stroke-width="0.9" />
<line x1="480.92" y1="340.87" x2="484.12" y2="340.87" stroke="#a1002b" stroke-width="0.9" />
<line x1="502.40" y1="329.72" x2="502.40" y2="342.20" stroke="#a1002b" stroke-width="0.9" />
<line x1="500.80" y1="329.72" x2="504.00" y2="329.72" stroke="#a1002b" stroke-width="0.9" />
<polyline points="403.00,393.27 422.88,386.36 442.76,375.88 462.64,364.06 482.52,355.58 502.40,342.20" fill="none" stroke="#a1002b" stroke-width="1.35" stroke-linejoin="round"/>
<circle cx="403.00" cy="393.27" r="1.55" fill="#a1002b"/>
<circle cx="422.88" cy="386.36" r="1.55" fill="#a1002b"/>
<circle cx="442.76" cy="375.88" r="1.55" fill="#a1002b"/>
<circle cx="462.64" cy="364.06" r="1.55" fill="#a1002b"/>
<circle cx="482.52" cy="355.58" r="1.55" fill="#a1002b"/>
<circle cx="502.40" cy="342.20" r="1.55" fill="#a1002b"/>
<line x1="422.88" y1="392.15" x2="422.88" y2="392.60" stroke="#de8b1c" stroke-width="0.9" />
<line x1="421.28" y1="392.15" x2="424.48" y2="392.15" stroke="#de8b1c" stroke-width="0.9" />
<line x1="442.76" y1="378.11" x2="442.76" y2="386.36" stroke="#de8b1c" stroke-width="0.9" />
<line x1="441.16" y1="378.11" x2="444.36" y2="378.11" stroke="#de8b1c" stroke-width="0.9" />
<line x1="462.64" y1="363.83" x2="462.64" y2="379.67" stroke="#de8b1c" stroke-width="0.9" />
<line x1="461.04" y1="363.83" x2="464.24" y2="363.83" stroke="#de8b1c" stroke-width="0.9" />
<line x1="482.52" y1="363.17" x2="482.52" y2="379.22" stroke="#de8b1c" stroke-width="0.9" />
<line x1="480.92" y1="363.17" x2="484.12" y2="363.17" stroke="#de8b1c" stroke-width="0.9" />
<line x1="502.40" y1="359.37" x2="502.40" y2="375.43" stroke="#de8b1c" stroke-width="0.9" />
<line x1="500.80" y1="359.37" x2="504.00" y2="359.37" stroke="#de8b1c" stroke-width="0.9" />
<polyline points="403.00,393.27 422.88,392.60 442.76,386.36 462.64,379.67 482.52,379.22 502.40,375.43" fill="none" stroke="#de8b1c" stroke-width="1.35" stroke-linejoin="round"/>
<circle cx="403.00" cy="393.27" r="1.55" fill="#de8b1c"/>
<circle cx="422.88" cy="392.60" r="1.55" fill="#de8b1c"/>
<circle cx="442.76" cy="386.36" r="1.55" fill="#de8b1c"/>
<circle cx="462.64" cy="379.67" r="1.55" fill="#de8b1c"/>
<circle cx="482.52" cy="379.22" r="1.55" fill="#de8b1c"/>
<circle cx="502.40" cy="375.43" r="1.55" fill="#de8b1c"/>
<polyline points="403.00,393.27 422.88,393.05 442.76,392.38 462.64,391.49 482.52,392.15 502.40,391.93" fill="none" stroke="#4f1f5e" stroke-width="1.35" stroke-linejoin="round"/>
<rect x="401.60" y="391.87" width="2.8" height="2.8" fill="#4f1f5e"/>
<rect x="421.48" y="391.65" width="2.8" height="2.8" fill="#4f1f5e"/>
<rect x="441.36" y="390.98" width="2.8" height="2.8" fill="#4f1f5e"/>
<rect x="461.24" y="390.09" width="2.8" height="2.8" fill="#4f1f5e"/>
<rect x="481.12" y="390.75" width="2.8" height="2.8" fill="#4f1f5e"/>
<rect x="501.00" y="390.53" width="2.8" height="2.8" fill="#4f1f5e"/>
<text transform="translate(371.03,348.80) rotate(-90)" font-size="10.0" text-anchor="middle" fill="#1e1e1e" stroke="#1e1e1e" stroke-width="0.3" textLength="48.89" lengthAdjust="spacingAndGlyphs">Fold growth</text>
<line x1="397.40" y1="317.00" x2="405.10" y2="317.00" stroke="#a1002b" stroke-width="1.3" />
<circle cx="401.20" cy="317.00" r="1.5" fill="#a1002b"/>
<text transform="translate(408.70,319.50)" font-size="8.3" text-anchor="start" fill="#1e1e1e" stroke="#1e1e1e" stroke-width="0.28" textLength="12.28" lengthAdjust="spacingAndGlyphs">SCR</text>
<line x1="397.40" y1="326.60" x2="405.10" y2="326.60" stroke="#4f1f5e" stroke-width="1.3" />
<rect x="399.80" y="325.20" width="2.8" height="2.8" fill="#4f1f5e"/>
<text transform="translate(408.70,329.10)" font-size="8.3" text-anchor="start" fill="#1e1e1e" stroke="#1e1e1e" stroke-width="0.28" textLength="13.97" lengthAdjust="spacingAndGlyphs">sh-C</text>
<line x1="397.40" y1="336.20" x2="405.10" y2="336.20" stroke="#de8b1c" stroke-width="1.3" />
<circle cx="401.20" cy="336.20" r="1.5" fill="#de8b1c"/>
<text transform="translate(408.70,338.70)" font-size="8.3" text-anchor="start" fill="#1e1e1e" stroke="#1e1e1e" stroke-width="0.28" textLength="14.62" lengthAdjust="spacingAndGlyphs">sh-D</text>
<line x1="440.60" y1="318.90" x2="503.20" y2="318.90" stroke="#333333" stroke-width="1.2" />
<line x1="440.60" y1="316.20" x2="440.60" y2="321.70" stroke="#333333" stroke-width="1.2" />
<line x1="503.20" y1="316.20" x2="503.20" y2="321.70" stroke="#333333" stroke-width="1.2" />
<circle cx="440.60" cy="313.70" r="1.1" fill="#674886"/>
<circle cx="459.40" cy="313.70" r="1.1" fill="#674886"/>
<circle cx="462.70" cy="313.70" r="1.1" fill="#674886"/>
<circle cx="466.00" cy="313.70" r="1.1" fill="#674886"/>
<circle cx="479.40" cy="313.70" r="1.1" fill="#674886"/>
<circle cx="482.70" cy="313.70" r="1.1" fill="#674886"/>
<circle cx="486.00" cy="313.70" r="1.1" fill="#674886"/>
<circle cx="499.10" cy="313.70" r="1.1" fill="#674886"/>
<circle cx="502.40" cy="313.70" r="1.1" fill="#674886"/>
<circle cx="505.70" cy="313.70" r="1.1" fill="#674886"/>
<circle cx="460.80" cy="302.70" r="1.1" fill="#e39a36"/>
<circle cx="479.50" cy="302.70" r="1.1" fill="#e39a36"/>
<circle cx="482.80" cy="302.70" r="1.1" fill="#e39a36"/>
<circle cx="486.10" cy="302.70" r="1.1" fill="#e39a36"/>
<circle cx="499.10" cy="302.70" r="1.1" fill="#e39a36"/>
<circle cx="502.40" cy="302.70" r="1.1" fill="#e39a36"/>
<circle cx="505.70" cy="302.70" r="1.1" fill="#e39a36"/>
<text transform="translate(7.60,437.20) scale(0.88,1)" font-size="11.6" text-anchor="start" fill="#1e1e1e" stroke="#1e1e1e" stroke-width="0.28">J</text>
<line x1="52.10" y1="455.00" x2="52.10" y2="497.00" stroke="#111111" stroke-width="1.0" />
<line x1="48.90" y1="497.00" x2="55.30" y2="497.00" stroke="#111111" stroke-width="1.0" />
<line x1="52.10" y1="502.60" x2="52.10" y2="541.30" stroke="#111111" stroke-width="1.0" />
<line x1="48.90" y1="502.60" x2="55.30" y2="502.60" stroke="#111111" stroke-width="1.0" />
<line x1="48.90" y1="496.60" x2="52.10" y2="496.60" stroke="#111111" stroke-width="1.0" />
<text transform="translate(45.60,499.20)" font-size="7.6" text-anchor="end" fill="#1e1e1e" stroke="#1e1e1e" stroke-width="0.28" textLength="7.54" lengthAdjust="spacingAndGlyphs">60</text>
<line x1="48.90" y1="476.85" x2="52.10" y2="476.85" stroke="#111111" stroke-width="1.0" />
<text transform="translate(45.60,479.45)" font-size="7.6" text-anchor="end" fill="#1e1e1e" stroke="#1e1e1e" stroke-width="0.28" textLength="7.54" lengthAdjust="spacingAndGlyphs">70</text>
<line x1="48.90" y1="457.10" x2="52.10" y2="457.10" stroke="#111111" stroke-width="1.0" />
<text transform="translate(45.60,459.70)" font-size="7.6" text-anchor="end" fill="#1e1e1e" stroke="#1e1e1e" stroke-width="0.28" textLength="7.54" lengthAdjust="spacingAndGlyphs">80</text>
<line x1="48.90" y1="541.30" x2="52.10" y2="541.30" stroke="#111111" stroke-width="1.0" />
<text transform="translate(45.60,543.90)" font-size="7.6" text-anchor="end" fill="#1e1e1e" stroke="#1e1e1e" stroke-width="0.28" textLength="3.77" lengthAdjust="spacingAndGlyphs">0</text>
<line x1="48.90" y1="528.53" x2="52.10" y2="528.53" stroke="#111111" stroke-width="1.0" />
<text transform="translate(45.60,531.13)" font-size="7.6" text-anchor="end" fill="#1e1e1e" stroke="#1e1e1e" stroke-width="0.28" textLength="7.54" lengthAdjust="spacingAndGlyphs">10</text>
<line x1="48.90" y1="515.77" x2="52.10" y2="515.77" stroke="#111111" stroke-width="1.0" />
<text transform="translate(45.60,518.37)" font-size="7.6" text-anchor="end" fill="#1e1e1e" stroke="#1e1e1e" stroke-width="0.28" textLength="7.54" lengthAdjust="spacingAndGlyphs">20</text>
<line x1="48.90" y1="503.00" x2="52.10" y2="503.00" stroke="#111111" stroke-width="1.0" />
<text transform="translate(45.60,505.60)" font-size="7.6" text-anchor="end" fill="#1e1e1e" stroke="#1e1e1e" stroke-width="0.28" textLength="7.54" lengthAdjust="spacingAndGlyphs">30</text>
<line x1="52.10" y1="541.30" x2="174.80" y2="541.30" stroke="#111111" stroke-width="1.0" />
<line x1="72.50" y1="541.30" x2="72.50" y2="543.90" stroke="#111111" stroke-width="1.0" />
<text transform="translate(72.50,554.60)" font-size="8.4" text-anchor="middle" fill="#1e1e1e" stroke="#1e1e1e" stroke-width="0.28" textLength="21.55" lengthAdjust="spacingAndGlyphs">G0/G1</text>
<line x1="61.35" y1="486.73" x2="61.35" y2="491.86" stroke="#2e2e2e" stroke-width="1.0" />
<line x1="58.45" y1="486.73" x2="64.25" y2="486.73" stroke="#2e2e2e" stroke-width="1.0" />
<rect x="57.55" y="491.86" width="7.60" height="5.14" fill="#a1002b"/>
<rect x="57.55" y="502.60" width="7.60" height="38.70" fill="#a1002b"/>
<line x1="72.50" y1="471.32" x2="72.50" y2="475.07" stroke="#2e2e2e" stroke-width="1.0" />
<line x1="69.60" y1="471.32" x2="75.40" y2="471.32" stroke="#2e2e2e" stroke-width="1.0" />
<rect x="68.70" y="475.07" width="7.60" height="21.93" fill="#4f1f5e"/>
<rect x="68.70" y="502.60" width="7.60" height="38.70" fill="#4f1f5e"/>
<circle cx="72.50" cy="462.00" r="1.05" fill="#2a2a2a"/>
<line x1="83.65" y1="469.35" x2="83.65" y2="472.50" stroke="#2e2e2e" stroke-width="1.0" />
<line x1="80.75" y1="469.35" x2="86.55" y2="469.35" stroke="#2e2e2e" stroke-width="1.0" />
<rect x="79.85" y="472.50" width="7.60" height="24.50" fill="#de8b1c"/>
<rect x="79.85" y="502.60" width="7.60" height="38.70" fill="#de8b1c"/>
<circle cx="83.65" cy="460.80" r="1.05" fill="#2a2a2a"/>
<line x1="113.00" y1="541.30" x2="113.00" y2="543.90" stroke="#111111" stroke-width="1.0" />
<text transform="translate(113.00,554.60)" font-size="8.4" text-anchor="middle" fill="#1e1e1e" stroke="#1e1e1e" stroke-width="0.28" textLength="3.99" lengthAdjust="spacingAndGlyphs">S</text>
<line x1="101.85" y1="510.92" x2="101.85" y2="511.30" stroke="#2e2e2e" stroke-width="1.0" />
<line x1="98.95" y1="510.92" x2="104.75" y2="510.92" stroke="#2e2e2e" stroke-width="1.0" />
<rect x="98.05" y="511.30" width="7.60" height="30.00" fill="#a1002b"/>
<line x1="113.00" y1="515.26" x2="113.00" y2="517.68" stroke="#2e2e2e" stroke-width="1.0" />
<line x1="110.10" y1="515.26" x2="115.90" y2="515.26" stroke="#2e2e2e" stroke-width="1.0" />
<rect x="109.20" y="517.68" width="7.60" height="23.62" fill="#4f1f5e"/>
<circle cx="113.00" cy="507.50" r="1.05" fill="#2a2a2a"/>
<line x1="124.15" y1="518.58" x2="124.15" y2="519.60" stroke="#2e2e2e" stroke-width="1.0" />
<line x1="121.25" y1="518.58" x2="127.05" y2="518.58" stroke="#2e2e2e" stroke-width="1.0" />
<rect x="120.35" y="519.60" width="7.60" height="21.70" fill="#de8b1c"/>
<circle cx="121.65" cy="512.10" r="1.05" fill="#2a2a2a"/>
<circle cx="126.65" cy="512.10" r="1.05" fill="#2a2a2a"/>
<line x1="153.50" y1="541.30" x2="153.50" y2="543.90" stroke="#111111" stroke-width="1.0" />
<text transform="translate(153.50,554.60)" font-size="8.4" text-anchor="middle" fill="#1e1e1e" stroke="#1e1e1e" stroke-width="0.28" textLength="18.68" lengthAdjust="spacingAndGlyphs">G2/M</text>
<line x1="142.35" y1="525.47" x2="142.35" y2="527.77" stroke="#2e2e2e" stroke-width="1.0" />
<line x1="139.45" y1="525.47" x2="145.25" y2="525.47" stroke="#2e2e2e" stroke-width="1.0" />
<rect x="138.55" y="527.77" width="7.60" height="13.53" fill="#a1002b"/>
<line x1="153.50" y1="528.15" x2="153.50" y2="529.43" stroke="#2e2e2e" stroke-width="1.0" />
<line x1="150.60" y1="528.15" x2="156.40" y2="528.15" stroke="#2e2e2e" stroke-width="1.0" />
<rect x="149.70" y="529.43" width="7.60" height="11.87" fill="#4f1f5e"/>
<line x1="164.65" y1="527.00" x2="164.65" y2="528.92" stroke="#2e2e2e" stroke-width="1.0" />
<line x1="161.75" y1="527.00" x2="167.55" y2="527.00" stroke="#2e2e2e" stroke-width="1.0" />
<rect x="160.85" y="528.92" width="7.60" height="12.38" fill="#de8b1c"/>
<text transform="translate(31.13,499.46) rotate(-90)" font-size="10.0" text-anchor="middle" fill="#1e1e1e" stroke="#1e1e1e" stroke-width="0.3" textLength="36.89" lengthAdjust="spacingAndGlyphs">% of cells</text>
<rect x="145.30" y="452.40" width="8.80" height="4.40" fill="#a1002b"/>
<text transform="translate(157.10,457.10)" font-size="8.3" text-anchor="start" fill="#1e1e1e" stroke="#1e1e1e" stroke-width="0.28" textLength="12.28" lengthAdjust="spacingAndGlyphs">SCR</text>
<rect x="145.30" y="461.75" width="8.80" height="4.40" fill="#4f1f5e"/>
<text transform="translate(157.10,466.45)" font-size="8.3" text-anchor="start" fill="#1e1e1e" stroke="#1e1e1e" stroke-width="0.28" textLength="13.97" lengthAdjust="spacingAndGlyphs">sh-C</text>
<rect x="145.30" y="471.10" width="8.80" height="4.40" fill="#de8b1c"/>
<text transform="translate(157.10,475.80)" font-size="8.3" text-anchor="start" fill="#1e1e1e" stroke="#1e1e1e" stroke-width="0.28" textLength="14.62" lengthAdjust="spacingAndGlyphs">sh-D</text>
<text transform="translate(184.80,437.70) scale(0.88,1)" font-size="11.6" text-anchor="start" fill="#1e1e1e" stroke="#1e1e1e" stroke-width="0.28">K</text>
<line x1="226.70" y1="444.50" x2="226.70" y2="541.50" stroke="#111111" stroke-width="1.0" />
<line x1="223.50" y1="541.50" x2="226.70" y2="541.50" stroke="#111111" stroke-width="1.0" />
<text transform="translate(220.20,544.10)" font-size="7.6" text-anchor="end" fill="#1e1e1e" stroke="#1e1e1e" stroke-width="0.28" textLength="3.77" lengthAdjust="spacingAndGlyphs">0</text>
<line x1="223.50" y1="509.75" x2="226.70" y2="509.75" stroke="#111111" stroke-width="1.0" />
<text transform="translate(220.20,512.35)" font-size="7.6" text-anchor="end" fill="#1e1e1e" stroke="#1e1e1e" stroke-width="0.28" textLength="7.54" lengthAdjust="spacingAndGlyphs">20</text>
<line x1="223.50" y1="478.00" x2="226.70" y2="478.00" stroke="#111111" stroke-width="1.0" />
<text transform="translate(220.20,480.60)" font-size="7.6" text-anchor="end" fill="#1e1e1e" stroke="#1e1e1e" stroke-width="0.28" textLength="7.54" lengthAdjust="spacingAndGlyphs">40</text>
<line x1="223.50" y1="446.25" x2="226.70" y2="446.25" stroke="#111111" stroke-width="1.0" />
<text transform="translate(220.20,448.85)" font-size="7.6" text-anchor="end" fill="#1e1e1e" stroke="#1e1e1e" stroke-width="0.28" textLength="7.54" lengthAdjust="spacingAndGlyphs">60</text>
<line x1="226.70" y1="541.50" x2="333.50" y2="541.50" stroke="#111111" stroke-width="1.0" />
<line x1="244.30" y1="541.50" x2="244.30" y2="544.10" stroke="#111111" stroke-width="1.0" />
<text transform="translate(244.30,555.00)" font-size="8.4" text-anchor="middle" fill="#1e1e1e" stroke="#1e1e1e" stroke-width="0.28" textLength="13.09" lengthAdjust="spacingAndGlyphs">SCR</text>
<line x1="279.90" y1="541.50" x2="279.90" y2="544.10" stroke="#111111" stroke-width="1.0" />
<text transform="translate(279.90,555.00)" font-size="8.4" text-anchor="middle" fill="#1e1e1e" stroke="#1e1e1e" stroke-width="0.28" textLength="14.89" lengthAdjust="spacingAndGlyphs">sh-C</text>
<line x1="315.70" y1="541.50" x2="315.70" y2="544.10" stroke="#111111" stroke-width="1.0" />
<text transform="translate(315.70,555.00)" font-size="8.4" text-anchor="middle" fill="#1e1e1e" stroke="#1e1e1e" stroke-width="0.28" textLength="15.58" lengthAdjust="spacingAndGlyphs">sh-D</text>
<line x1="244.30" y1="466.09" x2="244.30" y2="481.18" stroke="#b8274a" stroke-width="1.0" />
<line x1="238.55" y1="466.09" x2="250.05" y2="466.09" stroke="#b8274a" stroke-width="1.1" />
<line x1="238.55" y1="481.18" x2="250.05" y2="481.18" stroke="#b8274a" stroke-width="1.1" />
<circle cx="244.30" cy="455.77" r="1.55" fill="#a1002b"/>
<circle cx="244.30" cy="470.86" r="1.55" fill="#a1002b"/>
<circle cx="244.30" cy="475.78" r="1.55" fill="#a1002b"/>
<circle cx="244.30" cy="490.70" r="1.55" fill="#a1002b"/>
<line x1="232.05" y1="473.56" x2="256.55" y2="473.56" stroke="#111" stroke-width="1.3" />
<line x1="279.90" y1="496.73" x2="279.90" y2="515.47" stroke="#7b5a8c" stroke-width="1.0" />
<line x1="274.15" y1="496.73" x2="285.65" y2="496.73" stroke="#7b5a8c" stroke-width="1.1" />
<line x1="274.15" y1="515.47" x2="285.65" y2="515.47" stroke="#7b5a8c" stroke-width="1.1" />
<rect x="278.45" y="486.07" width="2.9" height="2.9" fill="#4f1f5e"/>
<rect x="278.45" y="496.55" width="2.9" height="2.9" fill="#4f1f5e"/>
<rect x="278.45" y="506.71" width="2.9" height="2.9" fill="#4f1f5e"/>
<rect x="278.45" y="529.25" width="2.9" height="2.9" fill="#4f1f5e"/>
<line x1="267.65" y1="505.94" x2="292.15" y2="505.94" stroke="#111" stroke-width="1.3" />
<circle cx="279.90" cy="476.50" r="1.05" fill="#2a2a2a"/>
<line x1="315.70" y1="502.61" x2="315.70" y2="517.37" stroke="#e39a3a" stroke-width="1.0" />
<line x1="309.95" y1="502.61" x2="321.45" y2="502.61" stroke="#e39a3a" stroke-width="1.1" />
<line x1="309.95" y1="517.37" x2="321.45" y2="517.37" stroke="#e39a3a" stroke-width="1.1" />
<path d="M315.70,487.38L317.30,490.26L314.10,490.26Z" fill="#de8b1c"/>
<path d="M315.70,511.36L317.30,514.24L314.10,514.24Z" fill="#de8b1c"/>
<path d="M315.70,519.93L317.30,522.81L314.10,522.81Z" fill="#de8b1c"/>
<line x1="303.45" y1="509.75" x2="327.95" y2="509.75" stroke="#111" stroke-width="1.3" />
<circle cx="315.70" cy="476.50" r="1.05" fill="#2a2a2a"/>
<text transform="translate(205.78,491.83) rotate(-90)" font-size="10.0" text-anchor="middle" fill="#1e1e1e" stroke="#1e1e1e" stroke-width="0.3" textLength="116.77" lengthAdjust="spacingAndGlyphs">% of cells (CD71+ / CD235a+)</text>
<text transform="translate(356.30,437.70) scale(0.88,1)" font-size="11.6" text-anchor="start" fill="#1e1e1e" stroke="#1e1e1e" stroke-width="0.28">L</text>
<line x1="392.60" y1="444.50" x2="392.60" y2="541.50" stroke="#111111" stroke-width="1.0" />
<line x1="389.40" y1="541.50" x2="392.60" y2="541.50" stroke="#111111" stroke-width="1.0" />
<text transform="translate(386.10,544.10)" font-size="7.6" text-anchor="end" fill="#1e1e1e" stroke="#1e1e1e" stroke-width="0.28" textLength="3.77" lengthAdjust="spacingAndGlyphs">0</text>
<line x1="389.40" y1="509.75" x2="392.60" y2="509.75" stroke="#111111" stroke-width="1.0" />
<text transform="translate(386.10,512.35)" font-size="7.6" text-anchor="end" fill="#1e1e1e" stroke="#1e1e1e" stroke-width="0.28" textLength="7.54" lengthAdjust="spacingAndGlyphs">20</text>
<line x1="389.40" y1="478.00" x2="392.60" y2="478.00" stroke="#111111" stroke-width="1.0" />
<text transform="translate(386.10,480.60)" font-size="7.6" text-anchor="end" fill="#1e1e1e" stroke="#1e1e1e" stroke-width="0.28" textLength="7.54" lengthAdjust="spacingAndGlyphs">40</text>
<line x1="389.40" y1="446.25" x2="392.60" y2="446.25" stroke="#111111" stroke-width="1.0" />
<text transform="translate(386.10,448.85)" font-size="7.6" text-anchor="end" fill="#1e1e1e" stroke="#1e1e1e" stroke-width="0.28" textLength="7.54" lengthAdjust="spacingAndGlyphs">60</text>
<line x1="392.60" y1="541.50" x2="499.60" y2="541.50" stroke="#111111" stroke-width="1.0" />
<line x1="410.50" y1="541.50" x2="410.50" y2="544.10" stroke="#111111" stroke-width="1.0" />
<text transform="translate(410.50,555.00)" font-size="8.4" text-anchor="middle" fill="#1e1e1e" stroke="#1e1e1e" stroke-width="0.28" textLength="13.09" lengthAdjust="spacingAndGlyphs">SCR</text>
<line x1="446.20" y1="541.50" x2="446.20" y2="544.10" stroke="#111111" stroke-width="1.0" />
<text transform="translate(446.20,555.00)" font-size="8.4" text-anchor="middle" fill="#1e1e1e" stroke="#1e1e1e" stroke-width="0.28" textLength="14.89" lengthAdjust="spacingAndGlyphs">sh-C</text>
<line x1="481.90" y1="541.50" x2="481.90" y2="544.10" stroke="#111111" stroke-width="1.0" />
<text transform="translate(481.90,555.00)" font-size="8.4" text-anchor="middle" fill="#1e1e1e" stroke="#1e1e1e" stroke-width="0.28" textLength="15.58" lengthAdjust="spacingAndGlyphs">sh-D</text>
<line x1="410.50" y1="464.51" x2="410.50" y2="476.89" stroke="#b8274a" stroke-width="1.0" />
<line x1="404.75" y1="464.51" x2="416.25" y2="464.51" stroke="#b8274a" stroke-width="1.1" />
<line x1="404.75" y1="476.89" x2="416.25" y2="476.89" stroke="#b8274a" stroke-width="1.1" />
<circle cx="410.50" cy="455.77" r="1.55" fill="#a1002b"/>
<circle cx="408.00" cy="467.52" r="1.55" fill="#a1002b"/>
<circle cx="413.00" cy="470.54" r="1.55" fill="#a1002b"/>
<circle cx="410.50" cy="487.52" r="1.55" fill="#a1002b"/>
<line x1="398.25" y1="470.54" x2="422.75" y2="470.54" stroke="#111" stroke-width="1.3" />
<line x1="446.20" y1="497.05" x2="446.20" y2="515.15" stroke="#7b5a8c" stroke-width="1.0" />
<line x1="440.45" y1="497.05" x2="451.95" y2="497.05" stroke="#7b5a8c" stroke-width="1.1" />
<line x1="440.45" y1="515.15" x2="451.95" y2="515.15" stroke="#7b5a8c" stroke-width="1.1" />
<rect x="444.75" y="486.55" width="2.9" height="2.9" fill="#4f1f5e"/>
<rect x="444.75" y="496.39" width="2.9" height="2.9" fill="#4f1f5e"/>
<rect x="444.75" y="505.92" width="2.9" height="2.9" fill="#4f1f5e"/>
<rect x="444.75" y="529.10" width="2.9" height="2.9" fill="#4f1f5e"/>
<line x1="433.95" y1="505.94" x2="458.45" y2="505.94" stroke="#111" stroke-width="1.3" />
<circle cx="446.20" cy="475.50" r="1.05" fill="#2a2a2a"/>
<line x1="481.90" y1="501.34" x2="481.90" y2="515.78" stroke="#e39a3a" stroke-width="1.0" />
<line x1="476.15" y1="501.34" x2="487.65" y2="501.34" stroke="#e39a3a" stroke-width="1.1" />
<line x1="476.15" y1="515.78" x2="487.65" y2="515.78" stroke="#e39a3a" stroke-width="1.1" />
<path d="M481.90,487.07L483.50,489.95L480.30,489.95Z" fill="#de8b1c"/>
<path d="M479.50,510.88L481.10,513.76L477.90,513.76Z" fill="#de8b1c"/>
<path d="M484.00,510.88L485.60,513.76L482.40,513.76Z" fill="#de8b1c"/>
<path d="M481.90,519.61L483.50,522.49L480.30,522.49Z" fill="#de8b1c"/>
<line x1="469.65" y1="508.48" x2="494.15" y2="508.48" stroke="#111" stroke-width="1.3" />
<circle cx="481.90" cy="476.10" r="1.05" fill="#2a2a2a"/>
<text transform="translate(372.08,492.23) rotate(-90)" font-size="10.0" text-anchor="middle" fill="#1e1e1e" stroke="#1e1e1e" stroke-width="0.3" textLength="116.77" lengthAdjust="spacingAndGlyphs">% of cells (CD36+ / CD235a+)</text>
<text transform="translate(7.60,569.00) scale(0.88,1)" font-size="11.6" text-anchor="start" fill="#1e1e1e" stroke="#1e1e1e" stroke-width="0.28">M</text>
<line x1="52.20" y1="574.50" x2="52.20" y2="673.80" stroke="#111111" stroke-width="1.0" />
<line x1="49.00" y1="673.80" x2="52.20" y2="673.80" stroke="#111111" stroke-width="1.0" />
<text transform="translate(45.70,676.40)" font-size="7.6" text-anchor="end" fill="#1e1e1e" stroke="#1e1e1e" stroke-width="0.28" textLength="3.77" lengthAdjust="spacingAndGlyphs">0</text>
<line x1="49.00" y1="641.45" x2="52.20" y2="641.45" stroke="#111111" stroke-width="1.0" />
<text transform="translate(45.70,644.05)" font-size="7.6" text-anchor="end" fill="#1e1e1e" stroke="#1e1e1e" stroke-width="0.28" textLength="3.77" lengthAdjust="spacingAndGlyphs">5</text>
<line x1="49.00" y1="609.10" x2="52.20" y2="609.10" stroke="#111111" stroke-width="1.0" />
<text transform="translate(45.70,611.70)" font-size="7.6" text-anchor="end" fill="#1e1e1e" stroke="#1e1e1e" stroke-width="0.28" textLength="7.54" lengthAdjust="spacingAndGlyphs">10</text>
<line x1="49.00" y1="576.75" x2="52.20" y2="576.75" stroke="#111111" stroke-width="1.0" />
<text transform="translate(45.70,579.35)" font-size="7.6" text-anchor="end" fill="#1e1e1e" stroke="#1e1e1e" stroke-width="0.28" textLength="7.54" lengthAdjust="spacingAndGlyphs">15</text>
<line x1="52.20" y1="673.80" x2="161.20" y2="673.80" stroke="#111111" stroke-width="1.0" />
<line x1="70.70" y1="673.80" x2="70.70" y2="676.40" stroke="#111111" stroke-width="1.0" />
<text transform="translate(70.70,686.70)" font-size="8.4" text-anchor="middle" fill="#1e1e1e" stroke="#1e1e1e" stroke-width="0.28" textLength="13.09" lengthAdjust="spacingAndGlyphs">SCR</text>
<line x1="106.60" y1="673.80" x2="106.60" y2="676.40" stroke="#111111" stroke-width="1.0" />
<text transform="translate(106.60,686.70)" font-size="8.4" text-anchor="middle" fill="#1e1e1e" stroke="#1e1e1e" stroke-width="0.28" textLength="14.89" lengthAdjust="spacingAndGlyphs">sh-C</text>
<line x1="143.30" y1="673.80" x2="143.30" y2="676.40" stroke="#111111" stroke-width="1.0" />
<text transform="translate(143.30,686.70)" font-size="8.4" text-anchor="middle" fill="#1e1e1e" stroke="#1e1e1e" stroke-width="0.28" textLength="15.58" lengthAdjust="spacingAndGlyphs">sh-D</text>
<line x1="70.70" y1="611.36" x2="70.70" y2="630.13" stroke="#b8274a" stroke-width="1.0" />
<line x1="64.95" y1="611.36" x2="76.45" y2="611.36" stroke="#b8274a" stroke-width="1.1" />
<line x1="64.95" y1="630.13" x2="76.45" y2="630.13" stroke="#b8274a" stroke-width="1.1" />
<rect x="69.25" y="592.12" width="2.9" height="2.9" fill="#a1002b"/>
<rect x="66.45" y="623.82" width="2.9" height="2.9" fill="#a1002b"/>
<rect x="71.55" y="627.06" width="2.9" height="2.9" fill="#a1002b"/>
<rect x="69.25" y="634.18" width="2.9" height="2.9" fill="#a1002b"/>
<line x1="58.45" y1="620.42" x2="82.95" y2="620.42" stroke="#111" stroke-width="1.3" />
<line x1="106.60" y1="663.45" x2="106.60" y2="668.62" stroke="#7b5a8c" stroke-width="1.0" />
<line x1="100.95" y1="663.45" x2="112.25" y2="663.45" stroke="#7b5a8c" stroke-width="1.1" />
<line x1="100.95" y1="668.62" x2="112.25" y2="668.62" stroke="#7b5a8c" stroke-width="1.1" />
<circle cx="106.60" cy="659.89" r="1.55" fill="#4f1f5e"/>
<circle cx="104.60" cy="669.59" r="1.55" fill="#4f1f5e"/>
<circle cx="109.20" cy="668.95" r="1.55" fill="#4f1f5e"/>
<circle cx="106.60" cy="666.04" r="1.55" fill="#4f1f5e"/>
<line x1="94.35" y1="666.04" x2="118.85" y2="666.04" stroke="#111" stroke-width="1.3" />
<circle cx="103.40" cy="646.80" r="1.05" fill="#2a2a2a"/>
<circle cx="106.60" cy="646.80" r="1.05" fill="#2a2a2a"/>
<circle cx="109.80" cy="646.80" r="1.05" fill="#2a2a2a"/>
<line x1="143.30" y1="656.65" x2="143.30" y2="658.60" stroke="#e39a3a" stroke-width="1.0" />
<line x1="137.55" y1="656.65" x2="149.05" y2="656.65" stroke="#e39a3a" stroke-width="1.1" />
<line x1="137.55" y1="658.60" x2="149.05" y2="658.60" stroke="#e39a3a" stroke-width="1.1" />
<path d="M138.30,655.25L139.90,658.13L136.70,658.13Z" fill="#de8b1c"/>
<path d="M143.30,655.25L144.90,658.13L141.70,658.13Z" fill="#de8b1c"/>
<path d="M148.30,655.25L149.90,658.13L146.70,658.13Z" fill="#de8b1c"/>
<path d="M143.30,661.07L144.90,663.95L141.70,663.95Z" fill="#de8b1c"/>
<line x1="131.05" y1="657.62" x2="155.55" y2="657.62" stroke="#111" stroke-width="1.3" />
<circle cx="141.70" cy="645.60" r="1.05" fill="#2a2a2a"/>
<circle cx="144.90" cy="645.60" r="1.05" fill="#2a2a2a"/>
<text transform="translate(31.63,624.06) rotate(-90)" font-size="10.0" text-anchor="middle" fill="#1e1e1e" stroke="#1e1e1e" stroke-width="0.3" textLength="113.99" lengthAdjust="spacingAndGlyphs">% of cells (CD71- / CD235a+)</text>
<text transform="translate(184.60,569.30) scale(0.88,1)" font-size="11.6" text-anchor="start" fill="#1e1e1e" stroke="#1e1e1e" stroke-width="0.28">N</text>
<line x1="226.10" y1="576.30" x2="226.10" y2="623.80" stroke="#111111" stroke-width="1.0" />
<line x1="222.90" y1="623.80" x2="229.30" y2="623.80" stroke="#111111" stroke-width="1.0" />
<line x1="226.10" y1="628.90" x2="226.10" y2="674.00" stroke="#111111" stroke-width="1.0" />
<line x1="222.90" y1="628.90" x2="229.30" y2="628.90" stroke="#111111" stroke-width="1.0" />
<line x1="222.90" y1="623.80" x2="226.10" y2="623.80" stroke="#111111" stroke-width="1.0" />
<text transform="translate(219.60,625.00)" font-size="7.6" text-anchor="end" fill="#1e1e1e" stroke="#1e1e1e" stroke-width="0.28" textLength="11.31" lengthAdjust="spacingAndGlyphs">100</text>
<line x1="222.90" y1="608.77" x2="226.10" y2="608.77" stroke="#111111" stroke-width="1.0" />
<text transform="translate(219.60,611.37)" font-size="7.6" text-anchor="end" fill="#1e1e1e" stroke="#1e1e1e" stroke-width="0.28" textLength="11.31" lengthAdjust="spacingAndGlyphs">200</text>
<line x1="222.90" y1="593.73" x2="226.10" y2="593.73" stroke="#111111" stroke-width="1.0" />
<text transform="translate(219.60,596.33)" font-size="7.6" text-anchor="end" fill="#1e1e1e" stroke="#1e1e1e" stroke-width="0.28" textLength="11.31" lengthAdjust="spacingAndGlyphs">300</text>
<line x1="222.90" y1="578.70" x2="226.10" y2="578.70" stroke="#111111" stroke-width="1.0" />
<text transform="translate(219.60,581.30)" font-size="7.6" text-anchor="end" fill="#1e1e1e" stroke="#1e1e1e" stroke-width="0.28" textLength="11.31" lengthAdjust="spacingAndGlyphs">400</text>
<line x1="222.90" y1="674.00" x2="226.10" y2="674.00" stroke="#111111" stroke-width="1.0" />
<text transform="translate(219.60,676.60)" font-size="7.6" text-anchor="end" fill="#1e1e1e" stroke="#1e1e1e" stroke-width="0.28" textLength="3.77" lengthAdjust="spacingAndGlyphs">0</text>
<line x1="222.90" y1="662.73" x2="226.10" y2="662.73" stroke="#111111" stroke-width="1.0" />
<text transform="translate(219.60,665.33)" font-size="7.6" text-anchor="end" fill="#1e1e1e" stroke="#1e1e1e" stroke-width="0.28" textLength="7.54" lengthAdjust="spacingAndGlyphs">20</text>
<line x1="222.90" y1="651.45" x2="226.10" y2="651.45" stroke="#111111" stroke-width="1.0" />
<text transform="translate(219.60,654.05)" font-size="7.6" text-anchor="end" fill="#1e1e1e" stroke="#1e1e1e" stroke-width="0.28" textLength="7.54" lengthAdjust="spacingAndGlyphs">40</text>
<line x1="222.90" y1="640.17" x2="226.10" y2="640.17" stroke="#111111" stroke-width="1.0" />
<text transform="translate(219.60,642.77)" font-size="7.6" text-anchor="end" fill="#1e1e1e" stroke="#1e1e1e" stroke-width="0.28" textLength="7.54" lengthAdjust="spacingAndGlyphs">60</text>
<line x1="222.90" y1="628.90" x2="226.10" y2="628.90" stroke="#111111" stroke-width="1.0" />
<text transform="translate(219.60,633.60)" font-size="7.6" text-anchor="end" fill="#1e1e1e" stroke="#1e1e1e" stroke-width="0.28" textLength="7.54" lengthAdjust="spacingAndGlyphs">80</text>
<line x1="226.10" y1="674.00" x2="331.90" y2="674.00" stroke="#111111" stroke-width="1.0" />
<line x1="252.90" y1="674.00" x2="252.90" y2="676.60" stroke="#111111" stroke-width="1.0" />
<text transform="translate(252.90,686.60)" font-size="8.4" text-anchor="middle" fill="#1e1e1e" stroke="#1e1e1e" stroke-width="0.28" textLength="20.05" lengthAdjust="spacingAndGlyphs">BFU-E</text>
<line x1="239.80" y1="602.45" x2="239.80" y2="607.71" stroke="#2e2e2e" stroke-width="1.0" />
<line x1="237.10" y1="602.45" x2="242.50" y2="602.45" stroke="#2e2e2e" stroke-width="1.0" />
<rect x="233.25" y="607.71" width="13.10" height="16.09" fill="#a1002b"/>
<rect x="233.25" y="628.90" width="13.10" height="45.10" fill="#a1002b"/>
<line x1="252.90" y1="662.50" x2="252.90" y2="664.81" stroke="#2e2e2e" stroke-width="1.0" />
<line x1="250.20" y1="662.50" x2="255.60" y2="662.50" stroke="#2e2e2e" stroke-width="1.0" />
<rect x="246.35" y="664.81" width="13.10" height="9.19" fill="#4f1f5e"/>
<circle cx="249.70" cy="649.40" r="1.05" fill="#2a2a2a"/>
<circle cx="252.90" cy="649.40" r="1.05" fill="#2a2a2a"/>
<circle cx="256.10" cy="649.40" r="1.05" fill="#2a2a2a"/>
<line x1="266.00" y1="642.32" x2="266.00" y2="648.52" stroke="#2e2e2e" stroke-width="1.0" />
<line x1="263.30" y1="642.32" x2="268.70" y2="642.32" stroke="#2e2e2e" stroke-width="1.0" />
<rect x="259.45" y="648.52" width="13.10" height="25.48" fill="#de8b1c"/>
<circle cx="262.80" cy="630.60" r="1.05" fill="#2a2a2a"/>
<circle cx="266.00" cy="630.60" r="1.05" fill="#2a2a2a"/>
<circle cx="269.20" cy="630.60" r="1.05" fill="#2a2a2a"/>
<line x1="305.40" y1="674.00" x2="305.40" y2="676.60" stroke="#111111" stroke-width="1.0" />
<text transform="translate(305.40,686.60)" font-size="8.4" text-anchor="middle" fill="#1e1e1e" stroke="#1e1e1e" stroke-width="0.28" textLength="20.36" lengthAdjust="spacingAndGlyphs">CFU-E</text>
<line x1="292.30" y1="617.49" x2="292.30" y2="620.10" stroke="#2e2e2e" stroke-width="1.0" />
<line x1="289.60" y1="617.49" x2="295.00" y2="617.49" stroke="#2e2e2e" stroke-width="1.0" />
<rect x="285.75" y="620.10" width="13.10" height="3.70" fill="#a1002b"/>
<rect x="285.75" y="628.90" width="13.10" height="45.10" fill="#a1002b"/>
<line x1="305.40" y1="672.31" x2="305.40" y2="672.87" stroke="#2e2e2e" stroke-width="1.0" />
<line x1="302.70" y1="672.31" x2="308.10" y2="672.31" stroke="#2e2e2e" stroke-width="1.0" />
<rect x="298.85" y="672.87" width="13.10" height="1.13" fill="#4f1f5e"/>
<circle cx="302.20" cy="663.60" r="1.05" fill="#2a2a2a"/>
<circle cx="305.40" cy="663.60" r="1.05" fill="#2a2a2a"/>
<circle cx="308.60" cy="663.60" r="1.05" fill="#2a2a2a"/>
<line x1="318.50" y1="668.31" x2="318.50" y2="670.22" stroke="#2e2e2e" stroke-width="1.0" />
<line x1="315.80" y1="668.31" x2="321.20" y2="668.31" stroke="#2e2e2e" stroke-width="1.0" />
<rect x="311.95" y="670.22" width="13.10" height="3.78" fill="#de8b1c"/>
<circle cx="315.30" cy="659.00" r="1.05" fill="#2a2a2a"/>
<circle cx="318.50" cy="659.00" r="1.05" fill="#2a2a2a"/>
<circle cx="321.70" cy="659.00" r="1.05" fill="#2a2a2a"/>
<text transform="translate(201.73,625.89) rotate(-90)" font-size="10.0" text-anchor="middle" fill="#1e1e1e" stroke="#1e1e1e" stroke-width="0.3" textLength="105.57" lengthAdjust="spacingAndGlyphs">No. of colonies / 3000 cells</text>
<rect x="310.00" y="585.00" width="6.40" height="4.80" fill="#a1002b"/>
<text transform="translate(319.70,589.90)" font-size="8.3" text-anchor="start" fill="#1e1e1e" stroke="#1e1e1e" stroke-width="0.28" textLength="12.28" lengthAdjust="spacingAndGlyphs">SCR</text>
<rect x="310.00" y="594.45" width="6.40" height="4.80" fill="#4f1f5e"/>
<text transform="translate(319.70,599.35)" font-size="8.3" text-anchor="start" fill="#1e1e1e" stroke="#1e1e1e" stroke-width="0.28" textLength="13.97" lengthAdjust="spacingAndGlyphs">sh-C</text>
<rect x="310.00" y="603.90" width="6.40" height="4.80" fill="#de8b1c"/>
<text transform="translate(319.70,608.80)" font-size="8.3" text-anchor="start" fill="#1e1e1e" stroke="#1e1e1e" stroke-width="0.28" textLength="14.62" lengthAdjust="spacingAndGlyphs">sh-D</text>
</g></svg></div>
</body></html>
